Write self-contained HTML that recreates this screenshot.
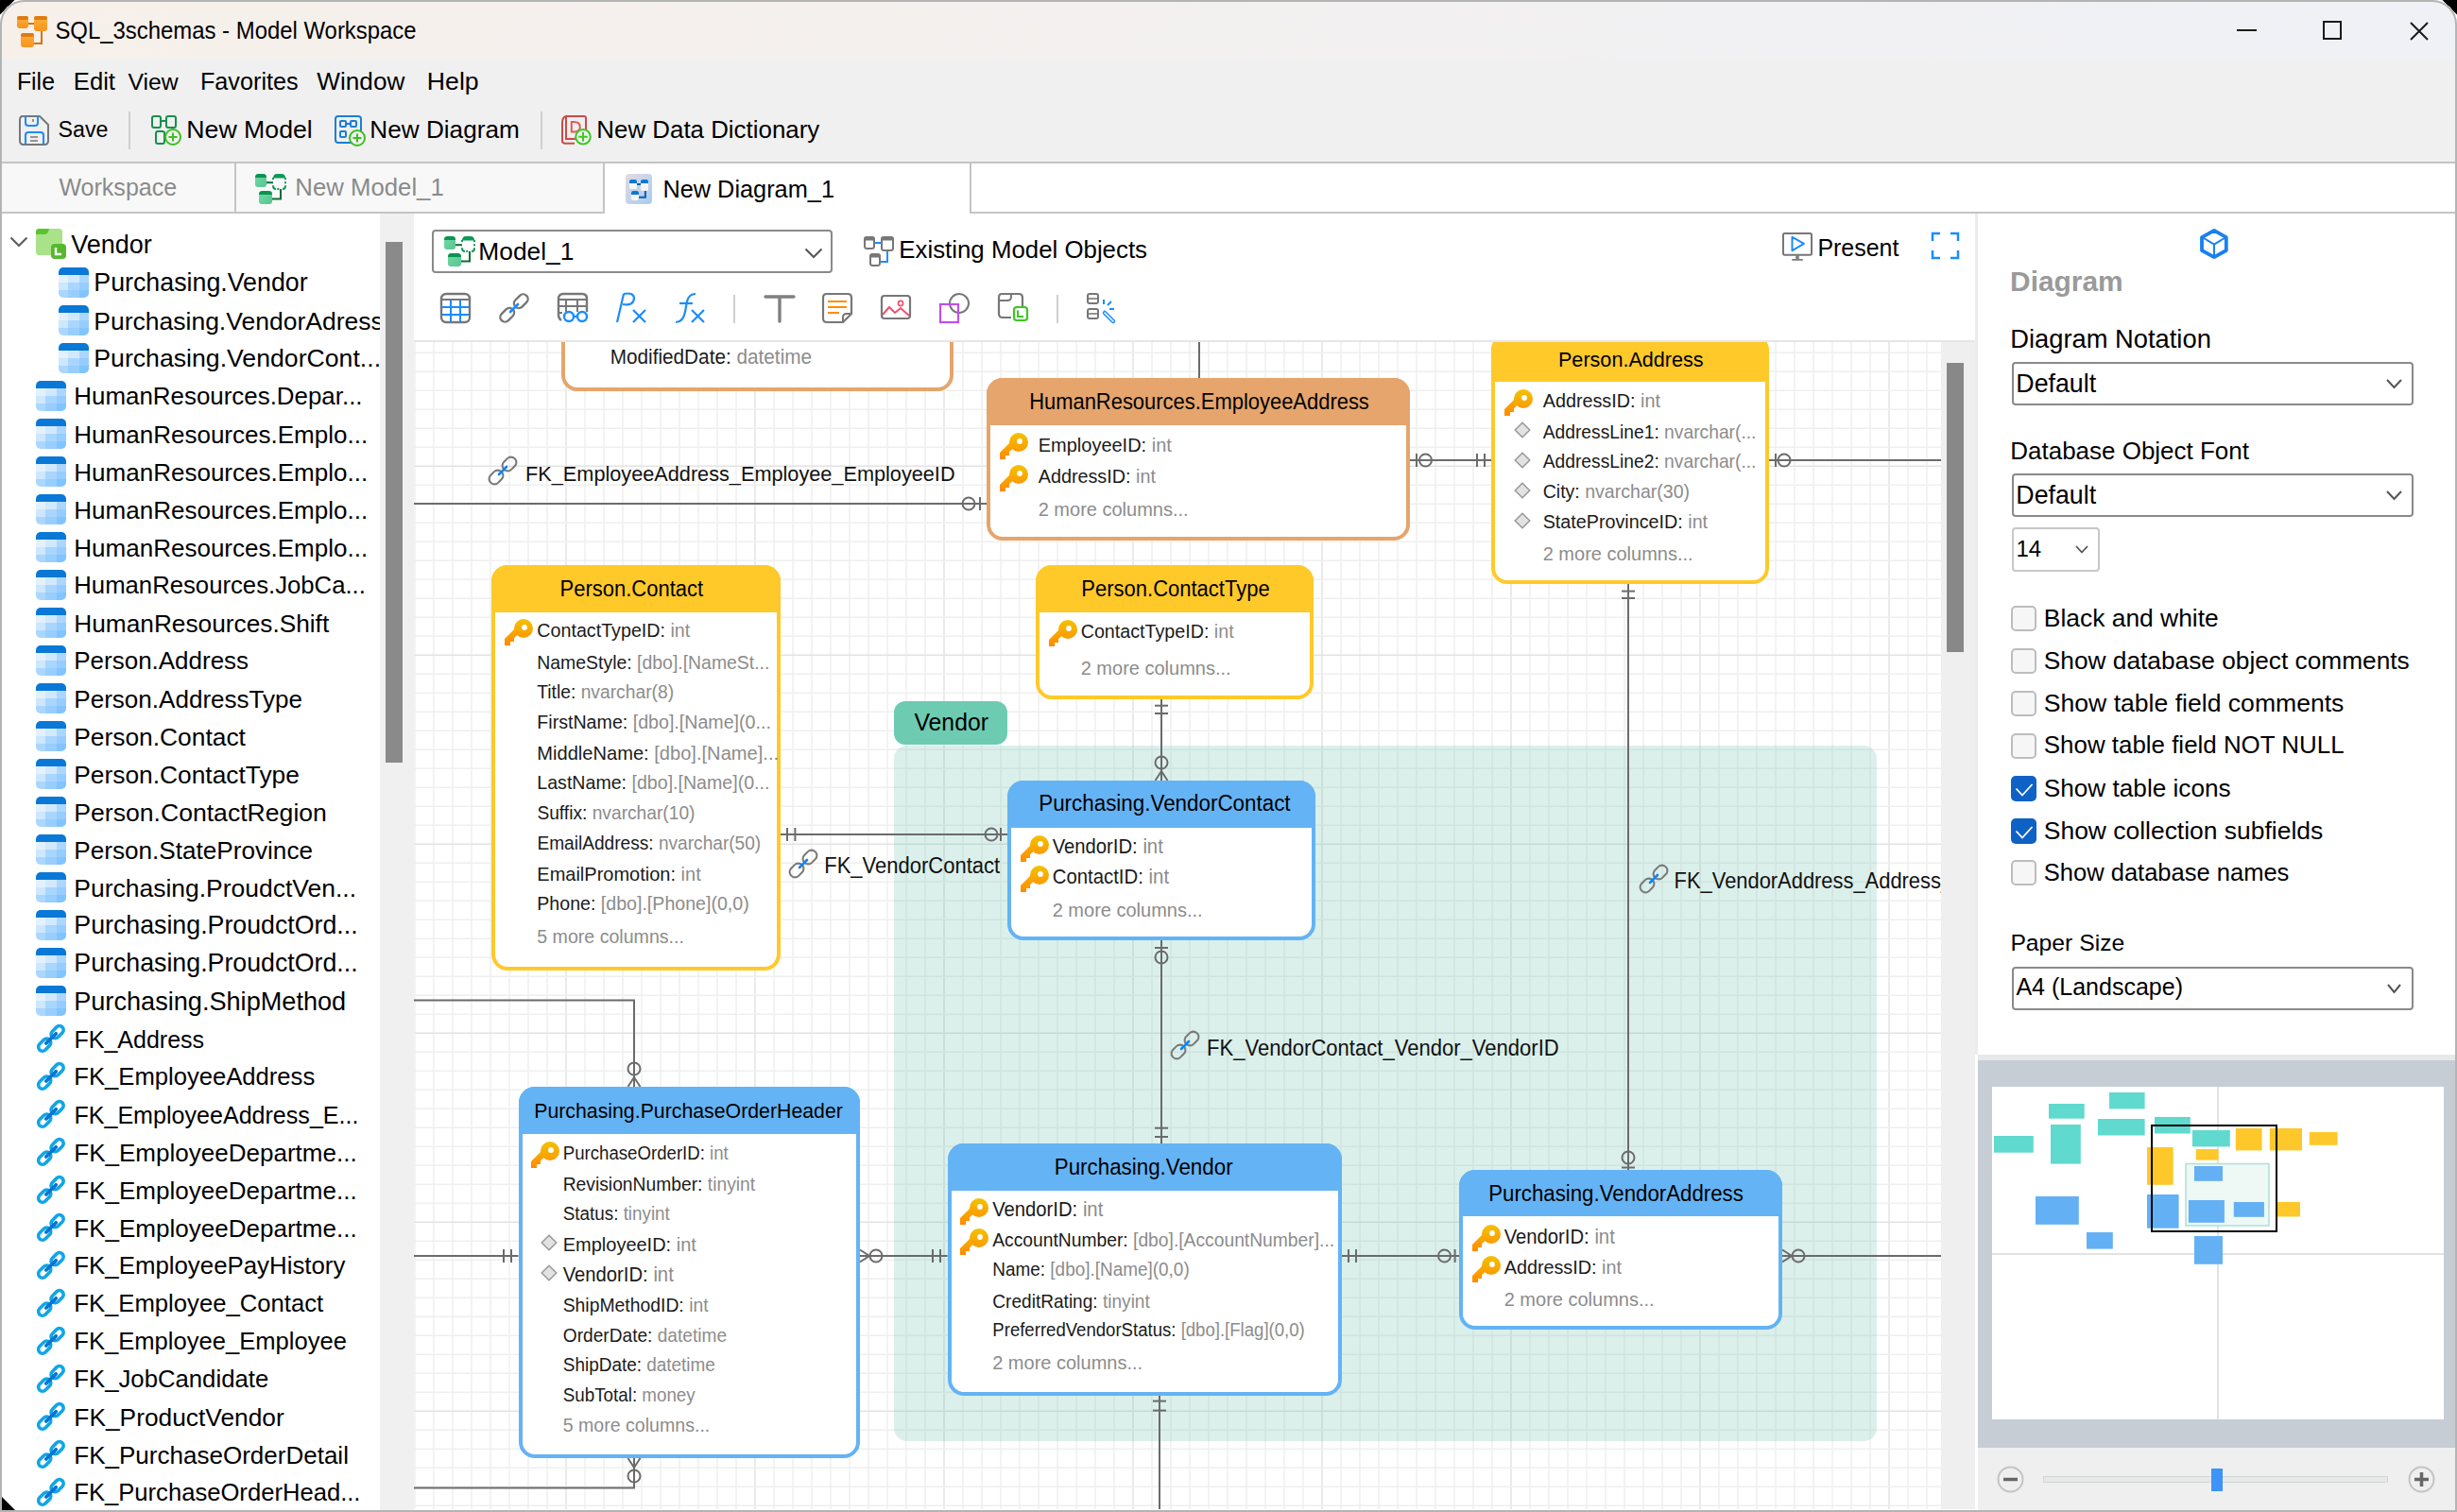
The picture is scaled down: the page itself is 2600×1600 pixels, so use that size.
<!DOCTYPE html>
<html><head><meta charset="utf-8"><title>Model Workspace</title>
<style>
html,body{margin:0;padding:0}
body{width:2600px;height:1600px;background:#fff;overflow:hidden;position:relative;font-family:"Liberation Sans",sans-serif}
.a{position:absolute}
.t{position:absolute;white-space:nowrap;line-height:1}
svg{overflow:visible}
</style></head><body>
<svg class="a" style="left:0;top:0" width="2600" height="40"><path d="M0 0 H15.5 L0 15.5Z M2600 0 H2584.5 L2600 15.5Z" fill="#000"/></svg>
<div class="a" style="left:0;top:0;width:2600px;height:1600px;border-radius:26px 26px 0 0;overflow:hidden;background:#fff">

<div class="a" style="left:0px;top:0px;width:2600px;height:62px;background:linear-gradient(90deg,#f7f0ea 0%,#f3f0ef 45%,#eff1f6 100%);"></div>
<svg class="a" style="left:18px;top:17px;" width="32" height="33" viewBox="0 0 32 33">
<defs><linearGradient id="go" x1="0" y1="0" x2="0" y2="1"><stop offset="0" stop-color="#fbb03b"/><stop offset="1" stop-color="#f7941d"/></linearGradient></defs>
<path d="M8 8 H20 M26 14 V29 H14" stroke="#d9720f" stroke-width="2" fill="none"/>
<rect x="0" y="0" width="12" height="13" rx="3" fill="url(#go)"/><rect x="0" y="0" width="12" height="4" rx="2" fill="#e07b10"/>
<rect x="18" y="0" width="14" height="16" rx="3" fill="url(#go)"/><rect x="18" y="0" width="14" height="4" rx="2" fill="#e07b10"/>
<rect x="4" y="18" width="14" height="15" rx="3" fill="url(#go)"/><rect x="4" y="18" width="14" height="4" rx="2" fill="#e07b10"/>
</svg>
<div class="t" style="left:58.4px;top:21.4px;font-size:23.92px;transform:scaleY(1.07);transform-origin:0 20.3px;">SQL_3schemas - Model Workspace</div>
<div class="a" style="left:2367px;top:31px;width:21px;height:2px;background:#1a1a1a;"></div>
<div class="a" style="left:2458px;top:22px;width:16px;height:16px;border:2px solid #1a1a1a"></div>
<svg class="a" style="left:2550px;top:23px;" width="20" height="20" viewBox="0 0 20 20"><path d="M1 1 L19 19 M19 1 L1 19" stroke="#1a1a1a" stroke-width="2"/></svg>
<div class="a" style="left:0px;top:62px;width:2600px;height:110px;background:#f0f0f0;"></div>
<div class="t" style="left:17.9px;top:74.4px;font-size:24.88px;">File</div>
<div class="t" style="left:77.8px;top:73.8px;font-size:25.65px;">Edit</div>
<div class="t" style="left:135.4px;top:74.5px;font-size:24.75px;">View</div>
<div class="t" style="left:211.9px;top:74.1px;font-size:25.24px;">Favorites</div>
<div class="t" style="left:335.3px;top:73.3px;font-size:26.17px;">Window</div>
<div class="t" style="left:451.8px;top:72.9px;font-size:26.69px;">Help</div>
<svg class="a" style="left:20px;top:122px;" width="32" height="32" viewBox="0 0 32 32">
<path d="M4 1 H22 L31 10 V27 Q31 31 27 31 H5 Q1 31 1 27 V5 Q1 1 4 1Z" fill="none" stroke="#777" stroke-width="2"/>
<path d="M7 1 V8 Q7 11 10 11 H17 Q20 11 20 8 V1" fill="none" stroke="#1a8cff" stroke-width="2"/>
<path d="M7 31 V21 Q7 18 10 18 H23 Q26 18 26 21 V31" fill="none" stroke="#1a8cff" stroke-width="2"/>
<path d="M15 4 V7" stroke="#777" stroke-width="1.5"/><path d="M12 23 H20 M12 27 H20" stroke="#777" stroke-width="1.5"/>
</svg>
<div class="t" style="left:61.5px;top:126.3px;font-size:23.24px;">Save</div>
<div class="a" style="left:136px;top:118px;width:2px;height:40px;background:#cfcfcf;"></div>
<svg class="a" style="left:160px;top:122px;" width="33" height="33" viewBox="0 0 33 33">
<rect x="1" y="1" width="9" height="12" rx="2" fill="none" stroke="#168f4f" stroke-width="2"/>
<rect x="16" y="1" width="10" height="12" rx="2" fill="none" stroke="#168f4f" stroke-width="2"/>
<path d="M10 6 H16" stroke="#168f4f" stroke-width="2"/>
<rect x="5" y="17" width="9" height="13" rx="2" fill="none" stroke="#168f4f" stroke-width="2"/>
<circle cx="23" cy="23" r="8" fill="#f0f0f0" stroke="#3cbf1e" stroke-width="2"/>
<path d="M23 18.5 V27.5 M18.5 23 H27.5" stroke="#3cbf1e" stroke-width="2"/>
</svg>
<div class="t" style="left:197.3px;top:123.9px;font-size:26.69px;">New Model</div>
<svg class="a" style="left:354px;top:122px;" width="33" height="33" viewBox="0 0 33 33">
<rect x="1" y="1" width="27" height="28" rx="3" fill="none" stroke="#1a7fd8" stroke-width="2"/>
<rect x="6" y="6" width="6" height="6" rx="1" fill="none" stroke="#1a7fd8" stroke-width="2"/>
<rect x="17" y="6" width="6" height="6" rx="1" fill="none" stroke="#1a7fd8" stroke-width="2"/>
<path d="M12 9 H17" stroke="#1a7fd8" stroke-width="2"/>
<rect x="6" y="17" width="6" height="6" rx="1" fill="none" stroke="#1a7fd8" stroke-width="2"/>
<circle cx="24" cy="24" r="8" fill="#f0f0f0" stroke="#3cbf1e" stroke-width="2"/>
<path d="M24 19.5 V28.5 M19.5 24 H28.5" stroke="#3cbf1e" stroke-width="2"/>
</svg>
<div class="t" style="left:391.3px;top:124.3px;font-size:26.17px;">New Diagram</div>
<div class="a" style="left:572px;top:118px;width:2px;height:40px;background:#cfcfcf;"></div>
<svg class="a" style="left:594px;top:122px;" width="33" height="33" viewBox="0 0 33 33">
<path d="M5 1 H24 Q26 1 26 3 V24 M14 29.8 H4 Q1 29.8 1 27 V8 Q1 2 5 1 V25 H15" fill="none" stroke="#cc4a48" stroke-width="2"/>
<path d="M10.8 7 H13 Q19.8 7 19.8 12.3 Q19.8 17.6 13 17.6 H10.8Z" fill="none" stroke="#e25a58" stroke-width="2"/>
<circle cx="23" cy="22.8" r="7.8" fill="#f0f0f0" stroke="#3cc81e" stroke-width="2"/>
<path d="M23 18 V27.6 M18.2 22.8 H27.8" stroke="#3cc81e" stroke-width="2"/>
</svg>
<div class="t" style="left:631.3px;top:124.6px;font-size:25.9px;">New Data Dictionary</div>
<div class="a" style="left:0px;top:172px;width:2600px;height:53px;background:#f8f8f8;"></div>
<div class="a" style="left:0px;top:171px;width:2600px;height:2px;background:#c4c4c4;"></div>
<div class="a" style="left:639px;top:173px;width:388px;height:54px;background:#fff;"></div>
<div class="a" style="left:1027px;top:173px;width:1573px;height:51px;background:#fff;"></div>
<div class="a" style="left:0px;top:224px;width:639px;height:2px;background:#c4c4c4;"></div>
<div class="a" style="left:1027px;top:224px;width:1573px;height:2px;background:#c4c4c4;"></div>
<div class="a" style="left:248px;top:173px;width:2px;height:52px;background:#c4c4c4;"></div>
<div class="a" style="left:638px;top:173px;width:2px;height:53px;background:#c4c4c4;"></div>
<div class="a" style="left:1026px;top:173px;width:2px;height:53px;background:#c4c4c4;"></div>
<div class="t" style="left:62.4px;top:186.3px;font-size:25.06px;color:#8a8a8a;">Workspace</div>
<svg class="a" style="left:270px;top:184px;" width="32" height="32" viewBox="0 0 32 32">
<defs><linearGradient id="gm" gradientUnits="objectBoundingBox" x1="0" y1="0" x2="1" y2="1"><stop offset="0" stop-color="#74dba6"/><stop offset="1" stop-color="#58c490"/></linearGradient></defs>
<path d="M12 9.2 H19" stroke="#0b6e35" stroke-width="2"/>
<path d="M18 26.5 H27 V16" fill="none" stroke="#0b6e35" stroke-width="2"/>
<rect x="0" y="0" width="12" height="14" rx="3" fill="url(#gm)"/><path d="M0 4 Q0 0 4 0 H8 Q12 0 12 4Z" fill="#0a9450"/>
<rect x="4" y="18" width="14" height="14" rx="3" fill="url(#gm)"/><path d="M4 22 Q4 18 8 18 H14 Q18 18 18 22Z" fill="#0a9450"/>
<path d="M19 4.5 Q19 0 23 0 H28 Q32 0 32 4.5Z" fill="#0a9a55"/>
<path d="M19 4 V6 M32 4 V6 M19 12.2 V12.5 Q19 16 22 16 M29 16 Q32 16 32 12.5 V12.2 M24.5 16 V16 M32 8.2 V10.2" fill="none" stroke="#0a9a55" stroke-width="2"/>
<rect x="23.3" y="15" width="2" height="2" fill="#0a9a55"/>
</svg>
<div class="t" style="left:312.3px;top:185.7px;font-size:25.75px;color:#8a8a8a;">New Model_1</div>
<svg class="a" style="left:662px;top:184px;" width="28" height="32" viewBox="0 0 28 32">
<defs><linearGradient id="gd" x1="0" y1="0" x2="1" y2="1"><stop offset="0" stop-color="#e2dbe3"/><stop offset="1" stop-color="#a8ccf0"/></linearGradient></defs>
<rect x="0" y="0" width="28" height="32" rx="4" fill="url(#gd)"/>
<path d="M12 11 H16 M14 24.8 H20.9 V17" fill="none" stroke="#0a5fb4" stroke-width="2"/>
<rect x="4" y="6" width="8" height="10" rx="2" fill="#f6f6f6"/><path d="M4 10 V8 Q4 6 6 6 H10 Q12 6 12 8 V10Z" fill="#0a78d6"/>
<rect x="16" y="6" width="8" height="12" rx="2" fill="#f6f6f6"/><path d="M16 10 V8 Q16 6 18 6 H22 Q24 6 24 8 V10Z" fill="#0a78d6"/>
<rect x="6" y="18" width="8" height="10" rx="2" fill="#f6f6f6"/><path d="M6 22 V20 Q6 18 8 18 H12 Q14 18 14 20 V22Z" fill="#0a78d6"/>
</svg>
<div class="t" style="left:701.4px;top:187.9px;font-size:25.34px;">New Diagram_1</div>
<div class="a" style="left:2px;top:226px;width:400px;height:1374px;background:#fff;"></div>
<div class="a" style="left:402px;top:226px;width:36px;height:1374px;background:#f0f0f0;"></div>
<div class="a" style="left:408px;top:256px;width:18px;height:551px;background:#8a8a8a;"></div>
<svg class="a" style="left:10px;top:250px;" width="20" height="12" viewBox="0 0 20 12"><path d="M1.5 1.5 L10 10 L18.5 1.5" fill="none" stroke="#606060" stroke-width="2.2"/></svg>
<svg class="a" style="left:38px;top:242px;" width="32" height="32" viewBox="0 0 32 32">
<rect x="0" y="0" width="28" height="28" rx="3.5" fill="#aae28a"/>
<path d="M0 3.5 Q0 0 3.5 0 H14 Q13 6 9 6 H0Z" fill="#5bc42c"/>
<rect x="16" y="16" width="16" height="16" rx="4" fill="#56b82c"/>
<path d="M21 20 V27 H27" fill="none" stroke="#fff" stroke-width="2.4"/></svg>
<div class="a" style="left:2px;top:226px;width:400px;height:1372px;overflow:hidden">
<div class="t" style="left:73.2px;top:20.1px;font-size:27.02px;">Vendor</div>
<svg class="a" style="left:60px;top:57px;" width="32" height="32" viewBox="0 0 32 32">
<defs><clipPath id="tc"><rect x="0" y="0" width="32" height="32" rx="5"/></clipPath></defs>
<g clip-path="url(#tc)">
<rect x="0" y="0" width="32" height="8" fill="#0a78d6"/>
<rect x="0" y="8" width="10" height="8" fill="#e3f1fd"/><rect x="10" y="8" width="12" height="8" fill="#d2e9fd"/><rect x="22" y="8" width="10" height="8" fill="#abd7fe"/>
<rect x="0" y="16" width="10" height="8" fill="#cde7fd"/><rect x="10" y="16" width="12" height="8" fill="#a9d6fe"/><rect x="22" y="16" width="10" height="8" fill="#96cdfe"/>
<rect x="0" y="24" width="10" height="8" fill="#abd7fe"/><rect x="10" y="24" width="12" height="8" fill="#98cefe"/><rect x="22" y="24" width="10" height="8" fill="#82c4fe"/>
</g></svg>
<div class="t" style="left:97.3px;top:60.3px;font-size:26.79px;">Purchasing.Vendor</div>
<svg class="a" style="left:60px;top:97px;" width="32" height="32" viewBox="0 0 32 32">
<defs><clipPath id="tc"><rect x="0" y="0" width="32" height="32" rx="5"/></clipPath></defs>
<g clip-path="url(#tc)">
<rect x="0" y="0" width="32" height="8" fill="#0a78d6"/>
<rect x="0" y="8" width="10" height="8" fill="#e3f1fd"/><rect x="10" y="8" width="12" height="8" fill="#d2e9fd"/><rect x="22" y="8" width="10" height="8" fill="#abd7fe"/>
<rect x="0" y="16" width="10" height="8" fill="#cde7fd"/><rect x="10" y="16" width="12" height="8" fill="#a9d6fe"/><rect x="22" y="16" width="10" height="8" fill="#96cdfe"/>
<rect x="0" y="24" width="10" height="8" fill="#abd7fe"/><rect x="10" y="24" width="12" height="8" fill="#98cefe"/><rect x="22" y="24" width="10" height="8" fill="#82c4fe"/>
</g></svg>
<div class="t" style="left:97.3px;top:100.6px;font-size:26.5px;">Purchasing.VendorAdress</div>
<svg class="a" style="left:60px;top:137px;" width="32" height="32" viewBox="0 0 32 32">
<defs><clipPath id="tc"><rect x="0" y="0" width="32" height="32" rx="5"/></clipPath></defs>
<g clip-path="url(#tc)">
<rect x="0" y="0" width="32" height="8" fill="#0a78d6"/>
<rect x="0" y="8" width="10" height="8" fill="#e3f1fd"/><rect x="10" y="8" width="12" height="8" fill="#d2e9fd"/><rect x="22" y="8" width="10" height="8" fill="#abd7fe"/>
<rect x="0" y="16" width="10" height="8" fill="#cde7fd"/><rect x="10" y="16" width="12" height="8" fill="#a9d6fe"/><rect x="22" y="16" width="10" height="8" fill="#96cdfe"/>
<rect x="0" y="24" width="10" height="8" fill="#abd7fe"/><rect x="10" y="24" width="12" height="8" fill="#98cefe"/><rect x="22" y="24" width="10" height="8" fill="#82c4fe"/>
</g></svg>
<div class="t" style="left:97.3px;top:140.4px;font-size:26.66px;">Purchasing.VendorCont...</div>
<svg class="a" style="left:36px;top:177px;" width="32" height="32" viewBox="0 0 32 32">
<defs><clipPath id="tc"><rect x="0" y="0" width="32" height="32" rx="5"/></clipPath></defs>
<g clip-path="url(#tc)">
<rect x="0" y="0" width="32" height="8" fill="#0a78d6"/>
<rect x="0" y="8" width="10" height="8" fill="#e3f1fd"/><rect x="10" y="8" width="12" height="8" fill="#d2e9fd"/><rect x="22" y="8" width="10" height="8" fill="#abd7fe"/>
<rect x="0" y="16" width="10" height="8" fill="#cde7fd"/><rect x="10" y="16" width="12" height="8" fill="#a9d6fe"/><rect x="22" y="16" width="10" height="8" fill="#96cdfe"/>
<rect x="0" y="24" width="10" height="8" fill="#abd7fe"/><rect x="10" y="24" width="12" height="8" fill="#98cefe"/><rect x="22" y="24" width="10" height="8" fill="#82c4fe"/>
</g></svg>
<div class="t" style="left:76.3px;top:181.1px;font-size:25.91px;">HumanResources.Depar...</div>
<svg class="a" style="left:36px;top:217px;" width="32" height="32" viewBox="0 0 32 32">
<defs><clipPath id="tc"><rect x="0" y="0" width="32" height="32" rx="5"/></clipPath></defs>
<g clip-path="url(#tc)">
<rect x="0" y="0" width="32" height="8" fill="#0a78d6"/>
<rect x="0" y="8" width="10" height="8" fill="#e3f1fd"/><rect x="10" y="8" width="12" height="8" fill="#d2e9fd"/><rect x="22" y="8" width="10" height="8" fill="#abd7fe"/>
<rect x="0" y="16" width="10" height="8" fill="#cde7fd"/><rect x="10" y="16" width="12" height="8" fill="#a9d6fe"/><rect x="22" y="16" width="10" height="8" fill="#96cdfe"/>
<rect x="0" y="24" width="10" height="8" fill="#abd7fe"/><rect x="10" y="24" width="12" height="8" fill="#98cefe"/><rect x="22" y="24" width="10" height="8" fill="#82c4fe"/>
</g></svg>
<div class="t" style="left:76.3px;top:221.0px;font-size:26.02px;">HumanResources.Emplo...</div>
<svg class="a" style="left:36px;top:257px;" width="32" height="32" viewBox="0 0 32 32">
<defs><clipPath id="tc"><rect x="0" y="0" width="32" height="32" rx="5"/></clipPath></defs>
<g clip-path="url(#tc)">
<rect x="0" y="0" width="32" height="8" fill="#0a78d6"/>
<rect x="0" y="8" width="10" height="8" fill="#e3f1fd"/><rect x="10" y="8" width="12" height="8" fill="#d2e9fd"/><rect x="22" y="8" width="10" height="8" fill="#abd7fe"/>
<rect x="0" y="16" width="10" height="8" fill="#cde7fd"/><rect x="10" y="16" width="12" height="8" fill="#a9d6fe"/><rect x="22" y="16" width="10" height="8" fill="#96cdfe"/>
<rect x="0" y="24" width="10" height="8" fill="#abd7fe"/><rect x="10" y="24" width="12" height="8" fill="#98cefe"/><rect x="22" y="24" width="10" height="8" fill="#82c4fe"/>
</g></svg>
<div class="t" style="left:76.3px;top:261.0px;font-size:26.02px;">HumanResources.Emplo...</div>
<svg class="a" style="left:36px;top:297px;" width="32" height="32" viewBox="0 0 32 32">
<defs><clipPath id="tc"><rect x="0" y="0" width="32" height="32" rx="5"/></clipPath></defs>
<g clip-path="url(#tc)">
<rect x="0" y="0" width="32" height="8" fill="#0a78d6"/>
<rect x="0" y="8" width="10" height="8" fill="#e3f1fd"/><rect x="10" y="8" width="12" height="8" fill="#d2e9fd"/><rect x="22" y="8" width="10" height="8" fill="#abd7fe"/>
<rect x="0" y="16" width="10" height="8" fill="#cde7fd"/><rect x="10" y="16" width="12" height="8" fill="#a9d6fe"/><rect x="22" y="16" width="10" height="8" fill="#96cdfe"/>
<rect x="0" y="24" width="10" height="8" fill="#abd7fe"/><rect x="10" y="24" width="12" height="8" fill="#98cefe"/><rect x="22" y="24" width="10" height="8" fill="#82c4fe"/>
</g></svg>
<div class="t" style="left:76.3px;top:301.0px;font-size:26.02px;">HumanResources.Emplo...</div>
<svg class="a" style="left:36px;top:337px;" width="32" height="32" viewBox="0 0 32 32">
<defs><clipPath id="tc"><rect x="0" y="0" width="32" height="32" rx="5"/></clipPath></defs>
<g clip-path="url(#tc)">
<rect x="0" y="0" width="32" height="8" fill="#0a78d6"/>
<rect x="0" y="8" width="10" height="8" fill="#e3f1fd"/><rect x="10" y="8" width="12" height="8" fill="#d2e9fd"/><rect x="22" y="8" width="10" height="8" fill="#abd7fe"/>
<rect x="0" y="16" width="10" height="8" fill="#cde7fd"/><rect x="10" y="16" width="12" height="8" fill="#a9d6fe"/><rect x="22" y="16" width="10" height="8" fill="#96cdfe"/>
<rect x="0" y="24" width="10" height="8" fill="#abd7fe"/><rect x="10" y="24" width="12" height="8" fill="#98cefe"/><rect x="22" y="24" width="10" height="8" fill="#82c4fe"/>
</g></svg>
<div class="t" style="left:76.3px;top:341.0px;font-size:26.02px;">HumanResources.Emplo...</div>
<svg class="a" style="left:36px;top:377px;" width="32" height="32" viewBox="0 0 32 32">
<defs><clipPath id="tc"><rect x="0" y="0" width="32" height="32" rx="5"/></clipPath></defs>
<g clip-path="url(#tc)">
<rect x="0" y="0" width="32" height="8" fill="#0a78d6"/>
<rect x="0" y="8" width="10" height="8" fill="#e3f1fd"/><rect x="10" y="8" width="12" height="8" fill="#d2e9fd"/><rect x="22" y="8" width="10" height="8" fill="#abd7fe"/>
<rect x="0" y="16" width="10" height="8" fill="#cde7fd"/><rect x="10" y="16" width="12" height="8" fill="#a9d6fe"/><rect x="22" y="16" width="10" height="8" fill="#96cdfe"/>
<rect x="0" y="24" width="10" height="8" fill="#abd7fe"/><rect x="10" y="24" width="12" height="8" fill="#98cefe"/><rect x="22" y="24" width="10" height="8" fill="#82c4fe"/>
</g></svg>
<div class="t" style="left:76.3px;top:381.2px;font-size:25.71px;">HumanResources.JobCa...</div>
<svg class="a" style="left:36px;top:417px;" width="32" height="32" viewBox="0 0 32 32">
<defs><clipPath id="tc"><rect x="0" y="0" width="32" height="32" rx="5"/></clipPath></defs>
<g clip-path="url(#tc)">
<rect x="0" y="0" width="32" height="8" fill="#0a78d6"/>
<rect x="0" y="8" width="10" height="8" fill="#e3f1fd"/><rect x="10" y="8" width="12" height="8" fill="#d2e9fd"/><rect x="22" y="8" width="10" height="8" fill="#abd7fe"/>
<rect x="0" y="16" width="10" height="8" fill="#cde7fd"/><rect x="10" y="16" width="12" height="8" fill="#a9d6fe"/><rect x="22" y="16" width="10" height="8" fill="#96cdfe"/>
<rect x="0" y="24" width="10" height="8" fill="#abd7fe"/><rect x="10" y="24" width="12" height="8" fill="#98cefe"/><rect x="22" y="24" width="10" height="8" fill="#82c4fe"/>
</g></svg>
<div class="t" style="left:76.3px;top:420.8px;font-size:26.25px;">HumanResources.Shift</div>
<svg class="a" style="left:36px;top:457px;" width="32" height="32" viewBox="0 0 32 32">
<defs><clipPath id="tc"><rect x="0" y="0" width="32" height="32" rx="5"/></clipPath></defs>
<g clip-path="url(#tc)">
<rect x="0" y="0" width="32" height="8" fill="#0a78d6"/>
<rect x="0" y="8" width="10" height="8" fill="#e3f1fd"/><rect x="10" y="8" width="12" height="8" fill="#d2e9fd"/><rect x="22" y="8" width="10" height="8" fill="#abd7fe"/>
<rect x="0" y="16" width="10" height="8" fill="#cde7fd"/><rect x="10" y="16" width="12" height="8" fill="#a9d6fe"/><rect x="22" y="16" width="10" height="8" fill="#96cdfe"/>
<rect x="0" y="24" width="10" height="8" fill="#abd7fe"/><rect x="10" y="24" width="12" height="8" fill="#98cefe"/><rect x="22" y="24" width="10" height="8" fill="#82c4fe"/>
</g></svg>
<div class="t" style="left:76.3px;top:461.0px;font-size:25.97px;">Person.Address</div>
<svg class="a" style="left:36px;top:497px;" width="32" height="32" viewBox="0 0 32 32">
<defs><clipPath id="tc"><rect x="0" y="0" width="32" height="32" rx="5"/></clipPath></defs>
<g clip-path="url(#tc)">
<rect x="0" y="0" width="32" height="8" fill="#0a78d6"/>
<rect x="0" y="8" width="10" height="8" fill="#e3f1fd"/><rect x="10" y="8" width="12" height="8" fill="#d2e9fd"/><rect x="22" y="8" width="10" height="8" fill="#abd7fe"/>
<rect x="0" y="16" width="10" height="8" fill="#cde7fd"/><rect x="10" y="16" width="12" height="8" fill="#a9d6fe"/><rect x="22" y="16" width="10" height="8" fill="#96cdfe"/>
<rect x="0" y="24" width="10" height="8" fill="#abd7fe"/><rect x="10" y="24" width="12" height="8" fill="#98cefe"/><rect x="22" y="24" width="10" height="8" fill="#82c4fe"/>
</g></svg>
<div class="t" style="left:76.3px;top:500.9px;font-size:26.05px;">Person.AddressType</div>
<svg class="a" style="left:36px;top:537px;" width="32" height="32" viewBox="0 0 32 32">
<defs><clipPath id="tc"><rect x="0" y="0" width="32" height="32" rx="5"/></clipPath></defs>
<g clip-path="url(#tc)">
<rect x="0" y="0" width="32" height="8" fill="#0a78d6"/>
<rect x="0" y="8" width="10" height="8" fill="#e3f1fd"/><rect x="10" y="8" width="12" height="8" fill="#d2e9fd"/><rect x="22" y="8" width="10" height="8" fill="#abd7fe"/>
<rect x="0" y="16" width="10" height="8" fill="#cde7fd"/><rect x="10" y="16" width="12" height="8" fill="#a9d6fe"/><rect x="22" y="16" width="10" height="8" fill="#96cdfe"/>
<rect x="0" y="24" width="10" height="8" fill="#abd7fe"/><rect x="10" y="24" width="12" height="8" fill="#98cefe"/><rect x="22" y="24" width="10" height="8" fill="#82c4fe"/>
</g></svg>
<div class="t" style="left:76.3px;top:540.7px;font-size:26.35px;">Person.Contact</div>
<svg class="a" style="left:36px;top:577px;" width="32" height="32" viewBox="0 0 32 32">
<defs><clipPath id="tc"><rect x="0" y="0" width="32" height="32" rx="5"/></clipPath></defs>
<g clip-path="url(#tc)">
<rect x="0" y="0" width="32" height="8" fill="#0a78d6"/>
<rect x="0" y="8" width="10" height="8" fill="#e3f1fd"/><rect x="10" y="8" width="12" height="8" fill="#d2e9fd"/><rect x="22" y="8" width="10" height="8" fill="#abd7fe"/>
<rect x="0" y="16" width="10" height="8" fill="#cde7fd"/><rect x="10" y="16" width="12" height="8" fill="#a9d6fe"/><rect x="22" y="16" width="10" height="8" fill="#96cdfe"/>
<rect x="0" y="24" width="10" height="8" fill="#abd7fe"/><rect x="10" y="24" width="12" height="8" fill="#98cefe"/><rect x="22" y="24" width="10" height="8" fill="#82c4fe"/>
</g></svg>
<div class="t" style="left:76.3px;top:580.7px;font-size:26.33px;">Person.ContactType</div>
<svg class="a" style="left:36px;top:617px;" width="32" height="32" viewBox="0 0 32 32">
<defs><clipPath id="tc"><rect x="0" y="0" width="32" height="32" rx="5"/></clipPath></defs>
<g clip-path="url(#tc)">
<rect x="0" y="0" width="32" height="8" fill="#0a78d6"/>
<rect x="0" y="8" width="10" height="8" fill="#e3f1fd"/><rect x="10" y="8" width="12" height="8" fill="#d2e9fd"/><rect x="22" y="8" width="10" height="8" fill="#abd7fe"/>
<rect x="0" y="16" width="10" height="8" fill="#cde7fd"/><rect x="10" y="16" width="12" height="8" fill="#a9d6fe"/><rect x="22" y="16" width="10" height="8" fill="#96cdfe"/>
<rect x="0" y="24" width="10" height="8" fill="#abd7fe"/><rect x="10" y="24" width="12" height="8" fill="#98cefe"/><rect x="22" y="24" width="10" height="8" fill="#82c4fe"/>
</g></svg>
<div class="t" style="left:76.3px;top:620.5px;font-size:26.6px;">Person.ContactRegion</div>
<svg class="a" style="left:36px;top:657px;" width="32" height="32" viewBox="0 0 32 32">
<defs><clipPath id="tc"><rect x="0" y="0" width="32" height="32" rx="5"/></clipPath></defs>
<g clip-path="url(#tc)">
<rect x="0" y="0" width="32" height="8" fill="#0a78d6"/>
<rect x="0" y="8" width="10" height="8" fill="#e3f1fd"/><rect x="10" y="8" width="12" height="8" fill="#d2e9fd"/><rect x="22" y="8" width="10" height="8" fill="#abd7fe"/>
<rect x="0" y="16" width="10" height="8" fill="#cde7fd"/><rect x="10" y="16" width="12" height="8" fill="#a9d6fe"/><rect x="22" y="16" width="10" height="8" fill="#96cdfe"/>
<rect x="0" y="24" width="10" height="8" fill="#abd7fe"/><rect x="10" y="24" width="12" height="8" fill="#98cefe"/><rect x="22" y="24" width="10" height="8" fill="#82c4fe"/>
</g></svg>
<div class="t" style="left:76.3px;top:660.9px;font-size:26.13px;">Person.StateProvince</div>
<svg class="a" style="left:36px;top:697px;" width="32" height="32" viewBox="0 0 32 32">
<defs><clipPath id="tc"><rect x="0" y="0" width="32" height="32" rx="5"/></clipPath></defs>
<g clip-path="url(#tc)">
<rect x="0" y="0" width="32" height="8" fill="#0a78d6"/>
<rect x="0" y="8" width="10" height="8" fill="#e3f1fd"/><rect x="10" y="8" width="12" height="8" fill="#d2e9fd"/><rect x="22" y="8" width="10" height="8" fill="#abd7fe"/>
<rect x="0" y="16" width="10" height="8" fill="#cde7fd"/><rect x="10" y="16" width="12" height="8" fill="#a9d6fe"/><rect x="22" y="16" width="10" height="8" fill="#96cdfe"/>
<rect x="0" y="24" width="10" height="8" fill="#abd7fe"/><rect x="10" y="24" width="12" height="8" fill="#98cefe"/><rect x="22" y="24" width="10" height="8" fill="#82c4fe"/>
</g></svg>
<div class="t" style="left:76.3px;top:700.6px;font-size:26.47px;">Purchasing.ProudctVen...</div>
<svg class="a" style="left:36px;top:737px;" width="32" height="32" viewBox="0 0 32 32">
<defs><clipPath id="tc"><rect x="0" y="0" width="32" height="32" rx="5"/></clipPath></defs>
<g clip-path="url(#tc)">
<rect x="0" y="0" width="32" height="8" fill="#0a78d6"/>
<rect x="0" y="8" width="10" height="8" fill="#e3f1fd"/><rect x="10" y="8" width="12" height="8" fill="#d2e9fd"/><rect x="22" y="8" width="10" height="8" fill="#abd7fe"/>
<rect x="0" y="16" width="10" height="8" fill="#cde7fd"/><rect x="10" y="16" width="12" height="8" fill="#a9d6fe"/><rect x="22" y="16" width="10" height="8" fill="#96cdfe"/>
<rect x="0" y="24" width="10" height="8" fill="#abd7fe"/><rect x="10" y="24" width="12" height="8" fill="#98cefe"/><rect x="22" y="24" width="10" height="8" fill="#82c4fe"/>
</g></svg>
<div class="t" style="left:76.3px;top:740.3px;font-size:26.76px;">Purchasing.ProudctOrd...</div>
<svg class="a" style="left:36px;top:777px;" width="32" height="32" viewBox="0 0 32 32">
<defs><clipPath id="tc"><rect x="0" y="0" width="32" height="32" rx="5"/></clipPath></defs>
<g clip-path="url(#tc)">
<rect x="0" y="0" width="32" height="8" fill="#0a78d6"/>
<rect x="0" y="8" width="10" height="8" fill="#e3f1fd"/><rect x="10" y="8" width="12" height="8" fill="#d2e9fd"/><rect x="22" y="8" width="10" height="8" fill="#abd7fe"/>
<rect x="0" y="16" width="10" height="8" fill="#cde7fd"/><rect x="10" y="16" width="12" height="8" fill="#a9d6fe"/><rect x="22" y="16" width="10" height="8" fill="#96cdfe"/>
<rect x="0" y="24" width="10" height="8" fill="#abd7fe"/><rect x="10" y="24" width="12" height="8" fill="#98cefe"/><rect x="22" y="24" width="10" height="8" fill="#82c4fe"/>
</g></svg>
<div class="t" style="left:76.3px;top:780.3px;font-size:26.76px;">Purchasing.ProudctOrd...</div>
<svg class="a" style="left:36px;top:817px;" width="32" height="32" viewBox="0 0 32 32">
<defs><clipPath id="tc"><rect x="0" y="0" width="32" height="32" rx="5"/></clipPath></defs>
<g clip-path="url(#tc)">
<rect x="0" y="0" width="32" height="8" fill="#0a78d6"/>
<rect x="0" y="8" width="10" height="8" fill="#e3f1fd"/><rect x="10" y="8" width="12" height="8" fill="#d2e9fd"/><rect x="22" y="8" width="10" height="8" fill="#abd7fe"/>
<rect x="0" y="16" width="10" height="8" fill="#cde7fd"/><rect x="10" y="16" width="12" height="8" fill="#a9d6fe"/><rect x="22" y="16" width="10" height="8" fill="#96cdfe"/>
<rect x="0" y="24" width="10" height="8" fill="#abd7fe"/><rect x="10" y="24" width="12" height="8" fill="#98cefe"/><rect x="22" y="24" width="10" height="8" fill="#82c4fe"/>
</g></svg>
<div class="t" style="left:76.2px;top:820.0px;font-size:27.13px;">Purchasing.ShipMethod</div>
<svg class="a" style="left:36px;top:857px;" width="32" height="32" viewBox="0 0 32 32">
<g transform="translate(22.6,9.2) rotate(-45)"><rect x="-7.5" y="-4.3" width="15" height="8.6" rx="4.3" fill="none" stroke="#10a6e6" stroke-width="3.6"/></g>
<g transform="translate(9.2,22.6) rotate(-45)"><rect x="-7.5" y="-4.3" width="15" height="8.6" rx="4.3" fill="none" stroke="#10a6e6" stroke-width="3.6"/></g>
<path d="M10.8 21 L21.2 10.8" stroke="#0a74d2" stroke-width="3.8" stroke-linecap="round"/></svg>
<div class="t" style="left:76.4px;top:861.8px;font-size:25.04px;">FK_Address</div>
<svg class="a" style="left:36px;top:897px;" width="32" height="32" viewBox="0 0 32 32">
<g transform="translate(22.6,9.2) rotate(-45)"><rect x="-7.5" y="-4.3" width="15" height="8.6" rx="4.3" fill="none" stroke="#10a6e6" stroke-width="3.6"/></g>
<g transform="translate(9.2,22.6) rotate(-45)"><rect x="-7.5" y="-4.3" width="15" height="8.6" rx="4.3" fill="none" stroke="#10a6e6" stroke-width="3.6"/></g>
<path d="M10.8 21 L21.2 10.8" stroke="#0a74d2" stroke-width="3.8" stroke-linecap="round"/></svg>
<div class="t" style="left:76.3px;top:901.3px;font-size:25.64px;">FK_EmployeeAddress</div>
<svg class="a" style="left:36px;top:937px;" width="32" height="32" viewBox="0 0 32 32">
<g transform="translate(22.6,9.2) rotate(-45)"><rect x="-7.5" y="-4.3" width="15" height="8.6" rx="4.3" fill="none" stroke="#10a6e6" stroke-width="3.6"/></g>
<g transform="translate(9.2,22.6) rotate(-45)"><rect x="-7.5" y="-4.3" width="15" height="8.6" rx="4.3" fill="none" stroke="#10a6e6" stroke-width="3.6"/></g>
<path d="M10.8 21 L21.2 10.8" stroke="#0a74d2" stroke-width="3.8" stroke-linecap="round"/></svg>
<div class="t" style="left:76.4px;top:941.8px;font-size:25.09px;">FK_EmployeeAddress_E...</div>
<svg class="a" style="left:36px;top:977px;" width="32" height="32" viewBox="0 0 32 32">
<g transform="translate(22.6,9.2) rotate(-45)"><rect x="-7.5" y="-4.3" width="15" height="8.6" rx="4.3" fill="none" stroke="#10a6e6" stroke-width="3.6"/></g>
<g transform="translate(9.2,22.6) rotate(-45)"><rect x="-7.5" y="-4.3" width="15" height="8.6" rx="4.3" fill="none" stroke="#10a6e6" stroke-width="3.6"/></g>
<path d="M10.8 21 L21.2 10.8" stroke="#0a74d2" stroke-width="3.8" stroke-linecap="round"/></svg>
<div class="t" style="left:76.3px;top:981.0px;font-size:26.02px;">FK_EmployeeDepartme...</div>
<svg class="a" style="left:36px;top:1017px;" width="32" height="32" viewBox="0 0 32 32">
<g transform="translate(22.6,9.2) rotate(-45)"><rect x="-7.5" y="-4.3" width="15" height="8.6" rx="4.3" fill="none" stroke="#10a6e6" stroke-width="3.6"/></g>
<g transform="translate(9.2,22.6) rotate(-45)"><rect x="-7.5" y="-4.3" width="15" height="8.6" rx="4.3" fill="none" stroke="#10a6e6" stroke-width="3.6"/></g>
<path d="M10.8 21 L21.2 10.8" stroke="#0a74d2" stroke-width="3.8" stroke-linecap="round"/></svg>
<div class="t" style="left:76.3px;top:1021.0px;font-size:26.02px;">FK_EmployeeDepartme...</div>
<svg class="a" style="left:36px;top:1057px;" width="32" height="32" viewBox="0 0 32 32">
<g transform="translate(22.6,9.2) rotate(-45)"><rect x="-7.5" y="-4.3" width="15" height="8.6" rx="4.3" fill="none" stroke="#10a6e6" stroke-width="3.6"/></g>
<g transform="translate(9.2,22.6) rotate(-45)"><rect x="-7.5" y="-4.3" width="15" height="8.6" rx="4.3" fill="none" stroke="#10a6e6" stroke-width="3.6"/></g>
<path d="M10.8 21 L21.2 10.8" stroke="#0a74d2" stroke-width="3.8" stroke-linecap="round"/></svg>
<div class="t" style="left:76.3px;top:1061.0px;font-size:26.02px;">FK_EmployeeDepartme...</div>
<svg class="a" style="left:36px;top:1097px;" width="32" height="32" viewBox="0 0 32 32">
<g transform="translate(22.6,9.2) rotate(-45)"><rect x="-7.5" y="-4.3" width="15" height="8.6" rx="4.3" fill="none" stroke="#10a6e6" stroke-width="3.6"/></g>
<g transform="translate(9.2,22.6) rotate(-45)"><rect x="-7.5" y="-4.3" width="15" height="8.6" rx="4.3" fill="none" stroke="#10a6e6" stroke-width="3.6"/></g>
<path d="M10.8 21 L21.2 10.8" stroke="#0a74d2" stroke-width="3.8" stroke-linecap="round"/></svg>
<div class="t" style="left:76.3px;top:1101.1px;font-size:25.84px;">FK_EmployeePayHistory</div>
<svg class="a" style="left:36px;top:1137px;" width="32" height="32" viewBox="0 0 32 32">
<g transform="translate(22.6,9.2) rotate(-45)"><rect x="-7.5" y="-4.3" width="15" height="8.6" rx="4.3" fill="none" stroke="#10a6e6" stroke-width="3.6"/></g>
<g transform="translate(9.2,22.6) rotate(-45)"><rect x="-7.5" y="-4.3" width="15" height="8.6" rx="4.3" fill="none" stroke="#10a6e6" stroke-width="3.6"/></g>
<path d="M10.8 21 L21.2 10.8" stroke="#0a74d2" stroke-width="3.8" stroke-linecap="round"/></svg>
<div class="t" style="left:76.3px;top:1141.3px;font-size:25.66px;">FK_Employee_Contact</div>
<svg class="a" style="left:36px;top:1177px;" width="32" height="32" viewBox="0 0 32 32">
<g transform="translate(22.6,9.2) rotate(-45)"><rect x="-7.5" y="-4.3" width="15" height="8.6" rx="4.3" fill="none" stroke="#10a6e6" stroke-width="3.6"/></g>
<g transform="translate(9.2,22.6) rotate(-45)"><rect x="-7.5" y="-4.3" width="15" height="8.6" rx="4.3" fill="none" stroke="#10a6e6" stroke-width="3.6"/></g>
<path d="M10.8 21 L21.2 10.8" stroke="#0a74d2" stroke-width="3.8" stroke-linecap="round"/></svg>
<div class="t" style="left:76.3px;top:1181.3px;font-size:25.58px;">FK_Employee_Employee</div>
<svg class="a" style="left:36px;top:1217px;" width="32" height="32" viewBox="0 0 32 32">
<g transform="translate(22.6,9.2) rotate(-45)"><rect x="-7.5" y="-4.3" width="15" height="8.6" rx="4.3" fill="none" stroke="#10a6e6" stroke-width="3.6"/></g>
<g transform="translate(9.2,22.6) rotate(-45)"><rect x="-7.5" y="-4.3" width="15" height="8.6" rx="4.3" fill="none" stroke="#10a6e6" stroke-width="3.6"/></g>
<path d="M10.8 21 L21.2 10.8" stroke="#0a74d2" stroke-width="3.8" stroke-linecap="round"/></svg>
<div class="t" style="left:76.3px;top:1221.2px;font-size:25.72px;">FK_JobCandidate</div>
<svg class="a" style="left:36px;top:1257px;" width="32" height="32" viewBox="0 0 32 32">
<g transform="translate(22.6,9.2) rotate(-45)"><rect x="-7.5" y="-4.3" width="15" height="8.6" rx="4.3" fill="none" stroke="#10a6e6" stroke-width="3.6"/></g>
<g transform="translate(9.2,22.6) rotate(-45)"><rect x="-7.5" y="-4.3" width="15" height="8.6" rx="4.3" fill="none" stroke="#10a6e6" stroke-width="3.6"/></g>
<path d="M10.8 21 L21.2 10.8" stroke="#0a74d2" stroke-width="3.8" stroke-linecap="round"/></svg>
<div class="t" style="left:76.3px;top:1260.7px;font-size:26.34px;">FK_ProductVendor</div>
<svg class="a" style="left:36px;top:1297px;" width="32" height="32" viewBox="0 0 32 32">
<g transform="translate(22.6,9.2) rotate(-45)"><rect x="-7.5" y="-4.3" width="15" height="8.6" rx="4.3" fill="none" stroke="#10a6e6" stroke-width="3.6"/></g>
<g transform="translate(9.2,22.6) rotate(-45)"><rect x="-7.5" y="-4.3" width="15" height="8.6" rx="4.3" fill="none" stroke="#10a6e6" stroke-width="3.6"/></g>
<path d="M10.8 21 L21.2 10.8" stroke="#0a74d2" stroke-width="3.8" stroke-linecap="round"/></svg>
<div class="t" style="left:76.3px;top:1301.0px;font-size:26.02px;">FK_PurchaseOrderDetail</div>
<svg class="a" style="left:36px;top:1337px;" width="32" height="32" viewBox="0 0 32 32">
<g transform="translate(22.6,9.2) rotate(-45)"><rect x="-7.5" y="-4.3" width="15" height="8.6" rx="4.3" fill="none" stroke="#10a6e6" stroke-width="3.6"/></g>
<g transform="translate(9.2,22.6) rotate(-45)"><rect x="-7.5" y="-4.3" width="15" height="8.6" rx="4.3" fill="none" stroke="#10a6e6" stroke-width="3.6"/></g>
<path d="M10.8 21 L21.2 10.8" stroke="#0a74d2" stroke-width="3.8" stroke-linecap="round"/></svg>
<div class="t" style="left:76.3px;top:1341.3px;font-size:25.61px;">FK_PurchaseOrderHead...</div>
</div>
<div class="a" style="left:438px;top:226px;width:1652px;height:134px;background:#fff;"></div>
<div class="a" style="left:438px;top:360px;width:1652px;height:2px;background:#e6e6e6;"></div>
<div class="a" style="left:457px;top:243px;width:420px;height:42px;border:2px solid #8a8a8a;border-radius:4px;background:#fff"></div>
<svg class="a" style="left:470px;top:250px;" width="32" height="32" viewBox="0 0 32 32">
<defs><linearGradient id="gm" gradientUnits="objectBoundingBox" x1="0" y1="0" x2="1" y2="1"><stop offset="0" stop-color="#74dba6"/><stop offset="1" stop-color="#58c490"/></linearGradient></defs>
<path d="M12 9.2 H19" stroke="#0b6e35" stroke-width="2"/>
<path d="M18 26.5 H27 V16" fill="none" stroke="#0b6e35" stroke-width="2"/>
<rect x="0" y="0" width="12" height="14" rx="3" fill="url(#gm)"/><path d="M0 4 Q0 0 4 0 H8 Q12 0 12 4Z" fill="#0a9450"/>
<rect x="4" y="18" width="14" height="14" rx="3" fill="url(#gm)"/><path d="M4 22 Q4 18 8 18 H14 Q18 18 18 22Z" fill="#0a9450"/>
<path d="M19 4.5 Q19 0 23 0 H28 Q32 0 32 4.5Z" fill="#0a9a55"/>
<path d="M19 4 V6 M32 4 V6 M19 12.2 V12.5 Q19 16 22 16 M29 16 Q32 16 32 12.5 V12.2 M24.5 16 V16 M32 8.2 V10.2" fill="none" stroke="#0a9a55" stroke-width="2"/>
<rect x="23.3" y="15" width="2" height="2" fill="#0a9a55"/>
</svg>
<div class="t" style="left:506.3px;top:252.7px;font-size:26.36px;">Model_1</div>
<svg class="a" style="left:851px;top:262px;" width="20" height="12" viewBox="0 0 20 12"><path d="M1.5 1.5 L10 10 L18.5 1.5" fill="none" stroke="#555" stroke-width="2"/></svg>
<svg class="a" style="left:914px;top:250px;" width="32" height="32" viewBox="0 0 32 32">
<path d="M12 7 H19 M17.5 27 H25 V16" fill="none" stroke="#1a8cff" stroke-width="1.9"/>
<rect x="1" y="1.5" width="10" height="11.5" rx="2.5" fill="none" stroke="#777" stroke-width="2"/><path d="M0 4.5 V3 Q0 0 3 0 H9 Q12 0 12 3 V4.5Z" fill="#777"/>
<rect x="19" y="1.5" width="12" height="13.5" rx="2.5" fill="none" stroke="#777" stroke-width="2"/><path d="M18 4.5 V3 Q18 0 21 0 H29 Q32 0 32 3 V4.5Z" fill="#777"/>
<rect x="7" y="19.5" width="10" height="11.5" rx="2.5" fill="none" stroke="#777" stroke-width="2"/><path d="M6 22.5 V21 Q6 18 9 18 H15 Q18 18 18 21 V22.5Z" fill="#777"/>
</svg>
<div class="t" style="left:951.3px;top:252.1px;font-size:25.84px;">Existing Model Objects</div>
<svg class="a" style="left:1886px;top:246px;" width="32" height="32" viewBox="0 0 32 32">
<rect x="1" y="1" width="30" height="22.7" rx="1.5" fill="none" stroke="#777" stroke-width="2"/>
<rect x="14.2" y="23.7" width="3.6" height="4.5" fill="#808080"/><rect x="10.2" y="28" width="11.6" height="1.8" fill="#808080"/>
<path d="M10.5 4.8 L22.9 11.8 L10.5 19.2Z" fill="none" stroke="#1a8cff" stroke-width="2" stroke-linejoin="round"/>
</svg>
<div class="t" style="left:1923.4px;top:249.9px;font-size:24.94px;">Present</div>
<svg class="a" style="left:2044px;top:246px;" width="29" height="28" viewBox="0 0 29 28"><path d="M1 9 V1 H9 M20 1 H28 V9 M28 19 V27 H20 M9 27 H1 V19" fill="none" stroke="#1a8cff" stroke-width="2.5"/></svg>
<svg class="a" style="left:466px;top:310px;" width="32" height="32" viewBox="0 0 32 32"><rect x="1" y="1" width="30" height="30" rx="5" fill="none" stroke="#777" stroke-width="2.4"/><path d="M1 7 H31" stroke="#777" stroke-width="2"/>
<path d="M11 8 V31 M21 8 V31 M2 15 H30 M2 23 H30" stroke="#1a8cff" stroke-width="2"/></svg>
<svg class="a" style="left:528px;top:310px;" width="32" height="32" viewBox="0 0 32 32"><g transform="translate(23.3,8.7) rotate(-45)"><rect x="-8.3" y="-5" width="16.6" height="10" rx="5" fill="none" stroke="#777" stroke-width="2.4"/></g>
<g transform="translate(8.7,23.3) rotate(-45)"><rect x="-8.3" y="-5" width="16.6" height="10" rx="5" fill="none" stroke="#777" stroke-width="2.4"/></g>
<path d="M12 20 L20 12" stroke="#1a8cff" stroke-width="2.6" stroke-linecap="round"/></svg>
<svg class="a" style="left:590px;top:310px;" width="32" height="32" viewBox="0 0 32 32"><path d="M4 29 Q1 27 1 23 V6 Q1 1 6 1 H26 Q31 1 31 6 V20" fill="none" stroke="#777" stroke-width="2.4"/>
<path d="M1 7 H31 M1 14 H31 M1 21 H5 M9 7 V20 M21 7 V20" stroke="#777" stroke-width="2"/>
<circle cx="12" cy="25" r="5" fill="#fff" stroke="#1a8cff" stroke-width="2.4"/><circle cx="26" cy="25" r="5" fill="#fff" stroke="#1a8cff" stroke-width="2.4"/><path d="M17 25 H21" stroke="#1a8cff" stroke-width="2"/></svg>
<svg class="a" style="left:652px;top:310px;" width="32" height="32" viewBox="0 0 32 32"><path d="M1 31 L8 1" stroke="#1a8cff" stroke-width="2.2" fill="none"/><path d="M8 1 Q18 -1 19 5 Q19 14 7 12" stroke="#1a8cff" stroke-width="2.2" fill="none"/>
<path d="M18 18 L31 31 M31 18 L18 31" stroke="#1a8cff" stroke-width="2.2"/></svg>
<svg class="a" style="left:714px;top:310px;" width="32" height="32" viewBox="0 0 32 32"><path d="M1 31 Q9 31 11 20 L13 9 Q15 1 22 1" stroke="#1a8cff" stroke-width="2.2" fill="none"/><path d="M5 11 H19" stroke="#1a8cff" stroke-width="2.2"/>
<path d="M18 18 L31 31 M31 18 L18 31" stroke="#1a8cff" stroke-width="2.2"/></svg>
<svg class="a" style="left:808px;top:310px;" width="32" height="32" viewBox="0 0 32 32"><path d="M2 4 H32 M17 4 V30" stroke="#808080" stroke-width="3.4" stroke-linecap="round"/></svg>
<svg class="a" style="left:870px;top:310px;" width="32" height="32" viewBox="0 0 32 32"><path d="M5 1 H27 Q31 1 31 5 V22 L22 31 H5 Q1 31 1 27 V5 Q1 1 5 1Z" fill="none" stroke="#777" stroke-width="2.2"/><path d="M31 22 H26 Q22 22 22 26 V31" fill="none" stroke="#777" stroke-width="2"/>
<path d="M6 9 H26 M6 15 H26 M6 21 H18" stroke="#ff8c00" stroke-width="2"/></svg>
<svg class="a" style="left:932px;top:310px;" width="32" height="32" viewBox="0 0 32 32"><rect x="1" y="3" width="30" height="24" rx="3" fill="none" stroke="#777" stroke-width="2.2"/>
<path d="M2 23 L9 15 L15 21 L21 16 L30 24" fill="none" stroke="#f0506e" stroke-width="2"/><circle cx="21" cy="11" r="2.6" fill="none" stroke="#f0506e" stroke-width="1.6"/></svg>
<svg class="a" style="left:994px;top:310px;" width="32" height="32" viewBox="0 0 32 32"><circle cx="21" cy="11" r="10" fill="none" stroke="#777" stroke-width="2"/><rect x="1" y="12" width="19" height="19" fill="none" stroke="#c04ef0" stroke-width="2.2"/></svg>
<svg class="a" style="left:1056px;top:310px;" width="32" height="32" viewBox="0 0 32 32"><path d="M4 1 H22 Q26 1 26 5 V14 M14 26 H5 Q1 26 1 22 V5 Q1 1 4 1" fill="none" stroke="#777" stroke-width="2.2"/><path d="M1 8 H10 Q14 8 14 4 V1" fill="none" stroke="#777" stroke-width="2"/>
<rect x="17" y="15" width="14" height="14" rx="3" fill="#fff" stroke="#3cc81e" stroke-width="2.2"/><path d="M21 18.5 V25 H27" fill="none" stroke="#3cc81e" stroke-width="2"/></svg>
<svg class="a" style="left:1150px;top:310px;" width="32" height="32" viewBox="0 0 32 32"><rect x="1" y="1" width="11" height="10" rx="2" fill="none" stroke="#777" stroke-width="2"/><path d="M1 6 H12" stroke="#777" stroke-width="1.6"/>
<rect x="1" y="17" width="11" height="10" rx="2" fill="none" stroke="#777" stroke-width="2"/><path d="M1 22 H12" stroke="#777" stroke-width="1.6"/>
<path d="M19 21 L28 30" stroke="#1a8cff" stroke-width="4.5" stroke-linecap="round"/><path d="M19 21 L28 30" stroke="#fff" stroke-width="1.4" stroke-linecap="round"/>
<path d="M18 7 V12 M22 13 L26 9 M24 17 H29" stroke="#1a8cff" stroke-width="2"/></svg>
<div class="a" style="left:776px;top:312px;width:2px;height:30px;background:#cfcfcf;"></div>
<div class="a" style="left:1118px;top:312px;width:2px;height:30px;background:#cfcfcf;"></div>
<div class="a" style="left:2054px;top:362px;width:36px;height:1235px;background:#efefef;"></div>
<div class="a" style="left:2060px;top:384px;width:18px;height:306px;background:#888888;"></div>
<div class="a" style="left:438px;top:362px;width:1616px;height:1235px;overflow:hidden;background:#fff">
<div class="a" style="left:-438px;top:-362px;width:2600px;height:1600px">
<svg class="a" style="left:0;top:0" width="2600" height="1600"><path d="M439 362 V1597" stroke="#efefef" stroke-width="1.5"/><path d="M459 362 V1597" stroke="#efefef" stroke-width="1.5"/><path d="M479 362 V1597" stroke="#efefef" stroke-width="1.5"/><path d="M499 362 V1597" stroke="#efefef" stroke-width="1.5"/><path d="M519 362 V1597" stroke="#efefef" stroke-width="1.5"/><path d="M539 362 V1597" stroke="#efefef" stroke-width="1.5"/><path d="M559 362 V1597" stroke="#efefef" stroke-width="1.5"/><path d="M579 362 V1597" stroke="#efefef" stroke-width="1.5"/><path d="M599 362 V1597" stroke="#e3e3e3" stroke-width="1.5"/><path d="M619 362 V1597" stroke="#efefef" stroke-width="1.5"/><path d="M639 362 V1597" stroke="#efefef" stroke-width="1.5"/><path d="M659 362 V1597" stroke="#efefef" stroke-width="1.5"/><path d="M679 362 V1597" stroke="#efefef" stroke-width="1.5"/><path d="M699 362 V1597" stroke="#efefef" stroke-width="1.5"/><path d="M719 362 V1597" stroke="#efefef" stroke-width="1.5"/><path d="M739 362 V1597" stroke="#efefef" stroke-width="1.5"/><path d="M759 362 V1597" stroke="#efefef" stroke-width="1.5"/><path d="M779 362 V1597" stroke="#efefef" stroke-width="1.5"/><path d="M799 362 V1597" stroke="#e3e3e3" stroke-width="1.5"/><path d="M819 362 V1597" stroke="#efefef" stroke-width="1.5"/><path d="M839 362 V1597" stroke="#efefef" stroke-width="1.5"/><path d="M859 362 V1597" stroke="#efefef" stroke-width="1.5"/><path d="M879 362 V1597" stroke="#efefef" stroke-width="1.5"/><path d="M899 362 V1597" stroke="#efefef" stroke-width="1.5"/><path d="M919 362 V1597" stroke="#efefef" stroke-width="1.5"/><path d="M939 362 V1597" stroke="#efefef" stroke-width="1.5"/><path d="M959 362 V1597" stroke="#efefef" stroke-width="1.5"/><path d="M979 362 V1597" stroke="#efefef" stroke-width="1.5"/><path d="M999 362 V1597" stroke="#e3e3e3" stroke-width="1.5"/><path d="M1019 362 V1597" stroke="#efefef" stroke-width="1.5"/><path d="M1039 362 V1597" stroke="#efefef" stroke-width="1.5"/><path d="M1059 362 V1597" stroke="#efefef" stroke-width="1.5"/><path d="M1079 362 V1597" stroke="#efefef" stroke-width="1.5"/><path d="M1099 362 V1597" stroke="#efefef" stroke-width="1.5"/><path d="M1119 362 V1597" stroke="#efefef" stroke-width="1.5"/><path d="M1139 362 V1597" stroke="#efefef" stroke-width="1.5"/><path d="M1159 362 V1597" stroke="#efefef" stroke-width="1.5"/><path d="M1179 362 V1597" stroke="#efefef" stroke-width="1.5"/><path d="M1199 362 V1597" stroke="#e3e3e3" stroke-width="1.5"/><path d="M1219 362 V1597" stroke="#efefef" stroke-width="1.5"/><path d="M1239 362 V1597" stroke="#efefef" stroke-width="1.5"/><path d="M1259 362 V1597" stroke="#efefef" stroke-width="1.5"/><path d="M1279 362 V1597" stroke="#efefef" stroke-width="1.5"/><path d="M1299 362 V1597" stroke="#efefef" stroke-width="1.5"/><path d="M1319 362 V1597" stroke="#efefef" stroke-width="1.5"/><path d="M1339 362 V1597" stroke="#efefef" stroke-width="1.5"/><path d="M1359 362 V1597" stroke="#efefef" stroke-width="1.5"/><path d="M1379 362 V1597" stroke="#efefef" stroke-width="1.5"/><path d="M1399 362 V1597" stroke="#e3e3e3" stroke-width="1.5"/><path d="M1419 362 V1597" stroke="#efefef" stroke-width="1.5"/><path d="M1439 362 V1597" stroke="#efefef" stroke-width="1.5"/><path d="M1459 362 V1597" stroke="#efefef" stroke-width="1.5"/><path d="M1479 362 V1597" stroke="#efefef" stroke-width="1.5"/><path d="M1499 362 V1597" stroke="#efefef" stroke-width="1.5"/><path d="M1519 362 V1597" stroke="#efefef" stroke-width="1.5"/><path d="M1539 362 V1597" stroke="#efefef" stroke-width="1.5"/><path d="M1559 362 V1597" stroke="#efefef" stroke-width="1.5"/><path d="M1579 362 V1597" stroke="#efefef" stroke-width="1.5"/><path d="M1599 362 V1597" stroke="#e3e3e3" stroke-width="1.5"/><path d="M1619 362 V1597" stroke="#efefef" stroke-width="1.5"/><path d="M1639 362 V1597" stroke="#efefef" stroke-width="1.5"/><path d="M1659 362 V1597" stroke="#efefef" stroke-width="1.5"/><path d="M1679 362 V1597" stroke="#efefef" stroke-width="1.5"/><path d="M1699 362 V1597" stroke="#efefef" stroke-width="1.5"/><path d="M1719 362 V1597" stroke="#efefef" stroke-width="1.5"/><path d="M1739 362 V1597" stroke="#efefef" stroke-width="1.5"/><path d="M1759 362 V1597" stroke="#efefef" stroke-width="1.5"/><path d="M1779 362 V1597" stroke="#efefef" stroke-width="1.5"/><path d="M1799 362 V1597" stroke="#e3e3e3" stroke-width="1.5"/><path d="M1819 362 V1597" stroke="#efefef" stroke-width="1.5"/><path d="M1839 362 V1597" stroke="#efefef" stroke-width="1.5"/><path d="M1859 362 V1597" stroke="#efefef" stroke-width="1.5"/><path d="M1879 362 V1597" stroke="#efefef" stroke-width="1.5"/><path d="M1899 362 V1597" stroke="#efefef" stroke-width="1.5"/><path d="M1919 362 V1597" stroke="#efefef" stroke-width="1.5"/><path d="M1939 362 V1597" stroke="#efefef" stroke-width="1.5"/><path d="M1959 362 V1597" stroke="#efefef" stroke-width="1.5"/><path d="M1979 362 V1597" stroke="#efefef" stroke-width="1.5"/><path d="M1999 362 V1597" stroke="#e3e3e3" stroke-width="1.5"/><path d="M2019 362 V1597" stroke="#efefef" stroke-width="1.5"/><path d="M2039 362 V1597" stroke="#efefef" stroke-width="1.5"/><path d="M438 373.2 H2054" stroke="#efefef" stroke-width="1.5"/><path d="M438 393.2 H2054" stroke="#efefef" stroke-width="1.5"/><path d="M438 413.2 H2054" stroke="#efefef" stroke-width="1.5"/><path d="M438 433.2 H2054" stroke="#efefef" stroke-width="1.5"/><path d="M438 453.2 H2054" stroke="#efefef" stroke-width="1.5"/><path d="M438 473.2 H2054" stroke="#efefef" stroke-width="1.5"/><path d="M438 493.2 H2054" stroke="#e3e3e3" stroke-width="1.5"/><path d="M438 513.2 H2054" stroke="#efefef" stroke-width="1.5"/><path d="M438 533.2 H2054" stroke="#efefef" stroke-width="1.5"/><path d="M438 553.2 H2054" stroke="#efefef" stroke-width="1.5"/><path d="M438 573.2 H2054" stroke="#efefef" stroke-width="1.5"/><path d="M438 593.2 H2054" stroke="#efefef" stroke-width="1.5"/><path d="M438 613.2 H2054" stroke="#efefef" stroke-width="1.5"/><path d="M438 633.2 H2054" stroke="#efefef" stroke-width="1.5"/><path d="M438 653.2 H2054" stroke="#efefef" stroke-width="1.5"/><path d="M438 673.2 H2054" stroke="#efefef" stroke-width="1.5"/><path d="M438 693.2 H2054" stroke="#e3e3e3" stroke-width="1.5"/><path d="M438 713.2 H2054" stroke="#efefef" stroke-width="1.5"/><path d="M438 733.2 H2054" stroke="#efefef" stroke-width="1.5"/><path d="M438 753.2 H2054" stroke="#efefef" stroke-width="1.5"/><path d="M438 773.2 H2054" stroke="#efefef" stroke-width="1.5"/><path d="M438 793.2 H2054" stroke="#efefef" stroke-width="1.5"/><path d="M438 813.2 H2054" stroke="#efefef" stroke-width="1.5"/><path d="M438 833.2 H2054" stroke="#efefef" stroke-width="1.5"/><path d="M438 853.2 H2054" stroke="#efefef" stroke-width="1.5"/><path d="M438 873.2 H2054" stroke="#efefef" stroke-width="1.5"/><path d="M438 893.2 H2054" stroke="#e3e3e3" stroke-width="1.5"/><path d="M438 913.2 H2054" stroke="#efefef" stroke-width="1.5"/><path d="M438 933.2 H2054" stroke="#efefef" stroke-width="1.5"/><path d="M438 953.2 H2054" stroke="#efefef" stroke-width="1.5"/><path d="M438 973.2 H2054" stroke="#efefef" stroke-width="1.5"/><path d="M438 993.2 H2054" stroke="#efefef" stroke-width="1.5"/><path d="M438 1013.2 H2054" stroke="#efefef" stroke-width="1.5"/><path d="M438 1033.2 H2054" stroke="#efefef" stroke-width="1.5"/><path d="M438 1053.2 H2054" stroke="#efefef" stroke-width="1.5"/><path d="M438 1073.2 H2054" stroke="#efefef" stroke-width="1.5"/><path d="M438 1093.2 H2054" stroke="#e3e3e3" stroke-width="1.5"/><path d="M438 1113.2 H2054" stroke="#efefef" stroke-width="1.5"/><path d="M438 1133.2 H2054" stroke="#efefef" stroke-width="1.5"/><path d="M438 1153.2 H2054" stroke="#efefef" stroke-width="1.5"/><path d="M438 1173.2 H2054" stroke="#efefef" stroke-width="1.5"/><path d="M438 1193.2 H2054" stroke="#efefef" stroke-width="1.5"/><path d="M438 1213.2 H2054" stroke="#efefef" stroke-width="1.5"/><path d="M438 1233.2 H2054" stroke="#efefef" stroke-width="1.5"/><path d="M438 1253.2 H2054" stroke="#efefef" stroke-width="1.5"/><path d="M438 1273.2 H2054" stroke="#efefef" stroke-width="1.5"/><path d="M438 1293.2 H2054" stroke="#e3e3e3" stroke-width="1.5"/><path d="M438 1313.2 H2054" stroke="#efefef" stroke-width="1.5"/><path d="M438 1333.2 H2054" stroke="#efefef" stroke-width="1.5"/><path d="M438 1353.2 H2054" stroke="#efefef" stroke-width="1.5"/><path d="M438 1373.2 H2054" stroke="#efefef" stroke-width="1.5"/><path d="M438 1393.2 H2054" stroke="#efefef" stroke-width="1.5"/><path d="M438 1413.2 H2054" stroke="#efefef" stroke-width="1.5"/><path d="M438 1433.2 H2054" stroke="#efefef" stroke-width="1.5"/><path d="M438 1453.2 H2054" stroke="#efefef" stroke-width="1.5"/><path d="M438 1473.2 H2054" stroke="#efefef" stroke-width="1.5"/><path d="M438 1493.2 H2054" stroke="#e3e3e3" stroke-width="1.5"/><path d="M438 1513.2 H2054" stroke="#efefef" stroke-width="1.5"/><path d="M438 1533.2 H2054" stroke="#efefef" stroke-width="1.5"/><path d="M438 1553.2 H2054" stroke="#efefef" stroke-width="1.5"/><path d="M438 1573.2 H2054" stroke="#efefef" stroke-width="1.5"/><path d="M438 1593.2 H2054" stroke="#efefef" stroke-width="1.5"/><rect x="946" y="789" width="1040" height="736" rx="14" fill="rgba(111,195,175,0.25)"/><rect x="946" y="742" width="120" height="46" rx="12" fill="#6dcbb2"/><path d="M1269 361 V400" fill="none" stroke="#6b6b6b" stroke-width="2"/><path d="M438 533 H1044" fill="none" stroke="#6b6b6b" stroke-width="2"/><circle cx="1025" cy="533" r="6.5" fill="none" stroke="#6b6b6b" stroke-width="2"/><path d="M1037 526 V540" fill="none" stroke="#6b6b6b" stroke-width="2"/><path d="M1492 487 H1578" fill="none" stroke="#6b6b6b" stroke-width="2"/><path d="M1499 480 V494" fill="none" stroke="#6b6b6b" stroke-width="2"/><circle cx="1508.5" cy="487" r="6.5" fill="none" stroke="#6b6b6b" stroke-width="2"/><path d="M1563 480 V494" fill="none" stroke="#6b6b6b" stroke-width="2"/><path d="M1571 480 V494" fill="none" stroke="#6b6b6b" stroke-width="2"/><path d="M1872 487 H2054" fill="none" stroke="#6b6b6b" stroke-width="2"/><path d="M1879 480 V494" fill="none" stroke="#6b6b6b" stroke-width="2"/><circle cx="1888" cy="487" r="6.5" fill="none" stroke="#6b6b6b" stroke-width="2"/><path d="M1723 617 V1238" fill="none" stroke="#6b6b6b" stroke-width="2"/><path d="M1716 625.6 H1730" fill="none" stroke="#6b6b6b" stroke-width="2"/><path d="M1716 633 H1730" fill="none" stroke="#6b6b6b" stroke-width="2"/><circle cx="1723" cy="1225" r="6.5" fill="none" stroke="#6b6b6b" stroke-width="2"/><path d="M1716 1235.5 H1730" fill="none" stroke="#6b6b6b" stroke-width="2"/><path d="M1229 740 V826" fill="none" stroke="#6b6b6b" stroke-width="2"/><path d="M1222 746.7 H1236" fill="none" stroke="#6b6b6b" stroke-width="2"/><path d="M1222 755 H1236" fill="none" stroke="#6b6b6b" stroke-width="2"/><circle cx="1229" cy="807" r="6.5" fill="none" stroke="#6b6b6b" stroke-width="2"/><path d="M1222.5 826 L1229 816 L1235.5 826" fill="none" stroke="#6b6b6b" stroke-width="2"/><path d="M826 883 H1066" fill="none" stroke="#6b6b6b" stroke-width="2"/><path d="M833 876 V890" fill="none" stroke="#6b6b6b" stroke-width="2"/><path d="M841.4 876 V890" fill="none" stroke="#6b6b6b" stroke-width="2"/><circle cx="1049" cy="883" r="6.5" fill="none" stroke="#6b6b6b" stroke-width="2"/><path d="M1059 876 V890" fill="none" stroke="#6b6b6b" stroke-width="2"/><path d="M1229 995 V1210" fill="none" stroke="#6b6b6b" stroke-width="2"/><path d="M1222 1003 H1236" fill="none" stroke="#6b6b6b" stroke-width="2"/><circle cx="1229" cy="1013" r="6.5" fill="none" stroke="#6b6b6b" stroke-width="2"/><path d="M1222 1193.7 H1236" fill="none" stroke="#6b6b6b" stroke-width="2"/><path d="M1222 1203 H1236" fill="none" stroke="#6b6b6b" stroke-width="2"/><path d="M438 1058.5 H671 V1150" fill="none" stroke="#6b6b6b" stroke-width="2"/><circle cx="671" cy="1131" r="6.5" fill="none" stroke="#6b6b6b" stroke-width="2"/><path d="M664.5 1150 L671 1140 L677.5 1150" fill="none" stroke="#6b6b6b" stroke-width="2"/><path d="M438 1329 H548.5" fill="none" stroke="#6b6b6b" stroke-width="2"/><path d="M533 1322 V1336" fill="none" stroke="#6b6b6b" stroke-width="2"/><path d="M541 1322 V1336" fill="none" stroke="#6b6b6b" stroke-width="2"/><path d="M910 1329 H1002.6" fill="none" stroke="#6b6b6b" stroke-width="2"/><path d="M910 1322.5 L920 1329 L910 1335.5" fill="none" stroke="#6b6b6b" stroke-width="2"/><circle cx="927" cy="1329" r="6.5" fill="none" stroke="#6b6b6b" stroke-width="2"/><path d="M987 1322 V1336" fill="none" stroke="#6b6b6b" stroke-width="2"/><path d="M995 1322 V1336" fill="none" stroke="#6b6b6b" stroke-width="2"/><path d="M1420 1329 H1544" fill="none" stroke="#6b6b6b" stroke-width="2"/><path d="M1427 1322 V1336" fill="none" stroke="#6b6b6b" stroke-width="2"/><path d="M1435 1322 V1336" fill="none" stroke="#6b6b6b" stroke-width="2"/><circle cx="1528.5" cy="1329" r="6.5" fill="none" stroke="#6b6b6b" stroke-width="2"/><path d="M1539.6 1322 V1336" fill="none" stroke="#6b6b6b" stroke-width="2"/><path d="M1886 1329 H2054" fill="none" stroke="#6b6b6b" stroke-width="2"/><path d="M1886 1322.5 L1896 1329 L1886 1335.5" fill="none" stroke="#6b6b6b" stroke-width="2"/><circle cx="1903" cy="1329" r="6.5" fill="none" stroke="#6b6b6b" stroke-width="2"/><path d="M671 1543 V1574.5 H438" fill="none" stroke="#6b6b6b" stroke-width="2"/><path d="M664.5 1543 L671 1553 L677.5 1543" fill="none" stroke="#6b6b6b" stroke-width="2"/><circle cx="671" cy="1562" r="6.5" fill="none" stroke="#6b6b6b" stroke-width="2"/><path d="M1227 1477 V1597" fill="none" stroke="#6b6b6b" stroke-width="2"/><path d="M1220 1482.6 H1234" fill="none" stroke="#6b6b6b" stroke-width="2"/><path d="M1220 1492.6 H1234" fill="none" stroke="#6b6b6b" stroke-width="2"/></svg>
<div class="a" style="left:594px;top:300px;width:407px;height:106px;border:4px solid #e5a56c;border-radius:17px;background:#fff"></div>
<div class="t" style="left:645.7px;top:368.4px;font-size:20.75px;color:#1a1a1a;transform:scaleY(1.05);transform-origin:0 17.6px;">ModifiedDate: <span style="color:#8c8c8c">datetime</span></div>
<div class="a" style="left:1044px;top:400px;width:440px;height:164px;border:4px solid #e5a56c;border-radius:17px;background:#fff"></div>
<div class="a" style="left:1044px;top:400px;width:448px;height:50px;background:#e5a56c;border-radius:17px 17px 0 0"></div>
<div class="t" style="left:1045.0px;width:448px;text-align:center;top:415.1px;font-size:21.95px;transform:scaleY(1.06);transform-origin:50% 18.6px;">HumanResources.EmployeeAddress</div>
<svg class="a" style="left:1058px;top:458.3px;" width="30" height="28" viewBox="0 0 30 28"><defs><linearGradient id="kg" gradientUnits="userSpaceOnUse" x1="0" y1="0" x2="0" y2="28"><stop offset="0" stop-color="#f3c200"/><stop offset="1" stop-color="#ff8a00"/></linearGradient></defs>
<path fill="url(#kg)" fill-rule="evenodd" d="M20 0 A10 10 0 1 1 20 20 A10 10 0 1 1 20 0Z M21 6.1 A2.9 2.9 0 1 0 21 11.9 A2.9 2.9 0 1 0 21 6.1Z"/>
<path fill="url(#kg)" d="M0 21 L11 10 L15.5 15 L10 20.3 L10 24 L6 24 L6 28 L0 28Z"/></svg>
<div class="t" style="left:1098.7px;top:461.1px;font-size:20.0px;color:#1a1a1a;transform:scaleY(1.05);transform-origin:0 16.9px;">EmployeeID: <span style="color:#8c8c8c">int</span></div>
<svg class="a" style="left:1058px;top:492.3px;" width="30" height="28" viewBox="0 0 30 28"><defs><linearGradient id="kg" gradientUnits="userSpaceOnUse" x1="0" y1="0" x2="0" y2="28"><stop offset="0" stop-color="#f3c200"/><stop offset="1" stop-color="#ff8a00"/></linearGradient></defs>
<path fill="url(#kg)" fill-rule="evenodd" d="M20 0 A10 10 0 1 1 20 20 A10 10 0 1 1 20 0Z M21 6.1 A2.9 2.9 0 1 0 21 11.9 A2.9 2.9 0 1 0 21 6.1Z"/>
<path fill="url(#kg)" d="M0 21 L11 10 L15.5 15 L10 20.3 L10 24 L6 24 L6 28 L0 28Z"/></svg>
<div class="t" style="left:1098.7px;top:495.2px;font-size:19.8px;color:#1a1a1a;transform:scaleY(1.05);transform-origin:0 16.8px;">AddressID: <span style="color:#8c8c8c">int</span></div>
<div class="t" style="left:1098.7px;top:529.1px;font-size:20.0px;color:#8c8c8c;transform:scaleY(1.05);transform-origin:0 16.9px;">2 more columns...</div>
<div class="a" style="left:1578px;top:354px;width:286px;height:255.5px;border:4px solid #ffc92a;border-radius:17px;background:#fff"></div>
<div class="a" style="left:1578px;top:354px;width:294px;height:50px;background:#ffc92a;border-radius:17px 17px 0 0"></div>
<div class="t" style="left:1578.8px;width:294px;text-align:center;top:369.7px;font-size:21.6px;transform:scaleY(1.06);transform-origin:50% 18.3px;">Person.Address</div>
<svg class="a" style="left:1592px;top:412.3px;" width="30" height="28" viewBox="0 0 30 28"><defs><linearGradient id="kg" gradientUnits="userSpaceOnUse" x1="0" y1="0" x2="0" y2="28"><stop offset="0" stop-color="#f3c200"/><stop offset="1" stop-color="#ff8a00"/></linearGradient></defs>
<path fill="url(#kg)" fill-rule="evenodd" d="M20 0 A10 10 0 1 1 20 20 A10 10 0 1 1 20 0Z M21 6.1 A2.9 2.9 0 1 0 21 11.9 A2.9 2.9 0 1 0 21 6.1Z"/>
<path fill="url(#kg)" d="M0 21 L11 10 L15.5 15 L10 20.3 L10 24 L6 24 L6 28 L0 28Z"/></svg>
<div class="t" style="left:1632.7px;top:415.2px;font-size:19.8px;color:#1a1a1a;transform:scaleY(1.05);transform-origin:0 16.8px;">AddressID: <span style="color:#8c8c8c">int</span></div>
<svg class="a" style="left:1602px;top:446px;" width="18" height="18" viewBox="0 0 18 18"><path d="M9 1.2 L16.8 9 L9 16.8 L1.2 9Z" fill="#e2e2e2" stroke="#9a9a9a" stroke-width="1.6" stroke-linejoin="round"/></svg>
<div class="t" style="left:1632.7px;top:447.7px;font-size:19.26px;color:#1a1a1a;transform:scaleY(1.05);transform-origin:0 16.3px;">AddressLine1: <span style="color:#8c8c8c">nvarchar(...</span></div>
<svg class="a" style="left:1602px;top:477.5px;" width="18" height="18" viewBox="0 0 18 18"><path d="M9 1.2 L16.8 9 L9 16.8 L1.2 9Z" fill="#e2e2e2" stroke="#9a9a9a" stroke-width="1.6" stroke-linejoin="round"/></svg>
<div class="t" style="left:1632.7px;top:479.2px;font-size:19.26px;color:#1a1a1a;transform:scaleY(1.05);transform-origin:0 16.3px;">AddressLine2: <span style="color:#8c8c8c">nvarchar(...</span></div>
<svg class="a" style="left:1602px;top:509.5px;" width="18" height="18" viewBox="0 0 18 18"><path d="M9 1.2 L16.8 9 L9 16.8 L1.2 9Z" fill="#e2e2e2" stroke="#9a9a9a" stroke-width="1.6" stroke-linejoin="round"/></svg>
<div class="t" style="left:1632.7px;top:510.9px;font-size:19.56px;color:#1a1a1a;transform:scaleY(1.05);transform-origin:0 16.6px;">City: <span style="color:#8c8c8c">nvarchar(30)</span></div>
<svg class="a" style="left:1602px;top:541.5px;" width="18" height="18" viewBox="0 0 18 18"><path d="M9 1.2 L16.8 9 L9 16.8 L1.2 9Z" fill="#e2e2e2" stroke="#9a9a9a" stroke-width="1.6" stroke-linejoin="round"/></svg>
<div class="t" style="left:1632.7px;top:542.8px;font-size:19.74px;color:#1a1a1a;transform:scaleY(1.05);transform-origin:0 16.7px;">StateProvinceID: <span style="color:#8c8c8c">int</span></div>
<div class="t" style="left:1632.7px;top:576.1px;font-size:20.0px;color:#8c8c8c;transform:scaleY(1.05);transform-origin:0 16.9px;">2 more columns...</div>
<div class="a" style="left:520px;top:598px;width:298px;height:421px;border:4px solid #ffc92a;border-radius:17px;background:#fff"></div>
<div class="a" style="left:520px;top:598px;width:306px;height:50px;background:#ffc92a;border-radius:17px 17px 0 0"></div>
<div class="t" style="left:515.3px;width:306px;text-align:center;top:613.4px;font-size:22.0px;transform:scaleY(1.06);transform-origin:50% 18.6px;">Person.Contact</div>
<svg class="a" style="left:534px;top:655.3px;" width="30" height="28" viewBox="0 0 30 28"><defs><linearGradient id="kg" gradientUnits="userSpaceOnUse" x1="0" y1="0" x2="0" y2="28"><stop offset="0" stop-color="#f3c200"/><stop offset="1" stop-color="#ff8a00"/></linearGradient></defs>
<path fill="url(#kg)" fill-rule="evenodd" d="M20 0 A10 10 0 1 1 20 20 A10 10 0 1 1 20 0Z M21 6.1 A2.9 2.9 0 1 0 21 11.9 A2.9 2.9 0 1 0 21 6.1Z"/>
<path fill="url(#kg)" d="M0 21 L11 10 L15.5 15 L10 20.3 L10 24 L6 24 L6 28 L0 28Z"/></svg>
<div class="t" style="left:568.3px;top:658.3px;font-size:19.71px;color:#1a1a1a;transform:scaleY(1.05);transform-origin:0 16.7px;">ContactTypeID: <span style="color:#8c8c8c">int</span></div>
<div class="t" style="left:568.3px;top:691.5px;font-size:19.43px;color:#1a1a1a;transform:scaleY(1.05);transform-origin:0 16.5px;">NameStyle: <span style="color:#8c8c8c">[dbo].[NameSt...</span></div>
<div class="t" style="left:568.3px;top:723.2px;font-size:19.25px;color:#1a1a1a;transform:scaleY(1.05);transform-origin:0 16.3px;">Title: <span style="color:#8c8c8c">nvarchar(8)</span></div>
<div class="t" style="left:568.3px;top:755.4px;font-size:19.64px;color:#1a1a1a;transform:scaleY(1.05);transform-origin:0 16.6px;">FirstName: <span style="color:#8c8c8c">[dbo].[Name](0...</span></div>
<div class="t" style="left:568.3px;top:787.0px;font-size:20.1px;color:#1a1a1a;transform:scaleY(1.05);transform-origin:0 17.0px;">MiddleName: <span style="color:#8c8c8c">[dbo].[Name]...</span></div>
<div class="t" style="left:568.3px;top:819.1px;font-size:19.6px;color:#1a1a1a;transform:scaleY(1.05);transform-origin:0 16.6px;">LastName: <span style="color:#8c8c8c">[dbo].[Name](0...</span></div>
<div class="t" style="left:568.4px;top:851.2px;font-size:19.21px;color:#1a1a1a;transform:scaleY(1.05);transform-origin:0 16.3px;">Suffix: <span style="color:#8c8c8c">nvarchar(10)</span></div>
<div class="t" style="left:568.4px;top:883.3px;font-size:19.13px;color:#1a1a1a;transform:scaleY(1.05);transform-origin:0 16.2px;">EmailAddress: <span style="color:#8c8c8c">nvarchar(50)</span></div>
<div class="t" style="left:568.3px;top:914.8px;font-size:20.01px;color:#1a1a1a;transform:scaleY(1.05);transform-origin:0 16.9px;">EmailPromotion: <span style="color:#8c8c8c">int</span></div>
<div class="t" style="left:568.3px;top:946.8px;font-size:19.6px;color:#1a1a1a;transform:scaleY(1.05);transform-origin:0 16.6px;">Phone: <span style="color:#8c8c8c">[dbo].[Phone](0,0)</span></div>
<div class="t" style="left:568.3px;top:982.4px;font-size:19.58px;color:#8c8c8c;transform:scaleY(1.05);transform-origin:0 16.6px;">5 more columns...</div>
<div class="a" style="left:1096px;top:598px;width:286px;height:134px;border:4px solid #ffc92a;border-radius:17px;background:#fff"></div>
<div class="a" style="left:1096px;top:598px;width:294px;height:49.5px;background:#ffc92a;border-radius:17px 17px 0 0"></div>
<div class="t" style="left:1097.0px;width:294px;text-align:center;top:613.4px;font-size:22.0px;transform:scaleY(1.06);transform-origin:50% 18.6px;">Person.ContactType</div>
<svg class="a" style="left:1110px;top:656.3px;" width="30" height="28" viewBox="0 0 30 28"><defs><linearGradient id="kg" gradientUnits="userSpaceOnUse" x1="0" y1="0" x2="0" y2="28"><stop offset="0" stop-color="#f3c200"/><stop offset="1" stop-color="#ff8a00"/></linearGradient></defs>
<path fill="url(#kg)" fill-rule="evenodd" d="M20 0 A10 10 0 1 1 20 20 A10 10 0 1 1 20 0Z M21 6.1 A2.9 2.9 0 1 0 21 11.9 A2.9 2.9 0 1 0 21 6.1Z"/>
<path fill="url(#kg)" d="M0 21 L11 10 L15.5 15 L10 20.3 L10 24 L6 24 L6 28 L0 28Z"/></svg>
<div class="t" style="left:1143.7px;top:659.3px;font-size:19.71px;color:#1a1a1a;transform:scaleY(1.05);transform-origin:0 16.7px;">ContactTypeID: <span style="color:#8c8c8c">int</span></div>
<div class="t" style="left:1143.7px;top:697.1px;font-size:20.0px;color:#8c8c8c;transform:scaleY(1.05);transform-origin:0 16.9px;">2 more columns...</div>
<div class="t" style="left:946.7px;width:120px;text-align:center;top:752.7px;font-size:24.77px;transform:scaleY(1.06);transform-origin:50% 21.0px;">Vendor</div>
<div class="a" style="left:1066px;top:826px;width:318px;height:161px;border:4px solid #64b3f4;border-radius:17px;background:#fff"></div>
<div class="a" style="left:1066px;top:826px;width:326px;height:50px;background:#64b3f4;border-radius:17px 17px 0 0"></div>
<div class="t" style="left:1069.4px;width:326px;text-align:center;top:840.0px;font-size:22.4px;transform:scaleY(1.06);transform-origin:50% 19.0px;">Purchasing.VendorContact</div>
<svg class="a" style="left:1080px;top:883.9px;" width="30" height="28" viewBox="0 0 30 28"><defs><linearGradient id="kg" gradientUnits="userSpaceOnUse" x1="0" y1="0" x2="0" y2="28"><stop offset="0" stop-color="#f3c200"/><stop offset="1" stop-color="#ff8a00"/></linearGradient></defs>
<path fill="url(#kg)" fill-rule="evenodd" d="M20 0 A10 10 0 1 1 20 20 A10 10 0 1 1 20 0Z M21 6.1 A2.9 2.9 0 1 0 21 11.9 A2.9 2.9 0 1 0 21 6.1Z"/>
<path fill="url(#kg)" d="M0 21 L11 10 L15.5 15 L10 20.3 L10 24 L6 24 L6 28 L0 28Z"/></svg>
<div class="t" style="left:1113.7px;top:886.4px;font-size:20.26px;color:#1a1a1a;transform:scaleY(1.05);transform-origin:0 17.2px;">VendorID: <span style="color:#8c8c8c">int</span></div>
<svg class="a" style="left:1080px;top:915.9px;" width="30" height="28" viewBox="0 0 30 28"><defs><linearGradient id="kg" gradientUnits="userSpaceOnUse" x1="0" y1="0" x2="0" y2="28"><stop offset="0" stop-color="#f3c200"/><stop offset="1" stop-color="#ff8a00"/></linearGradient></defs>
<path fill="url(#kg)" fill-rule="evenodd" d="M20 0 A10 10 0 1 1 20 20 A10 10 0 1 1 20 0Z M21 6.1 A2.9 2.9 0 1 0 21 11.9 A2.9 2.9 0 1 0 21 6.1Z"/>
<path fill="url(#kg)" d="M0 21 L11 10 L15.5 15 L10 20.3 L10 24 L6 24 L6 28 L0 28Z"/></svg>
<div class="t" style="left:1113.7px;top:918.3px;font-size:20.38px;color:#1a1a1a;transform:scaleY(1.05);transform-origin:0 17.3px;">ContactID: <span style="color:#8c8c8c">int</span></div>
<div class="t" style="left:1113.7px;top:952.5px;font-size:20.0px;color:#8c8c8c;transform:scaleY(1.05);transform-origin:0 16.9px;">2 more columns...</div>
<div class="a" style="left:548.5px;top:1150px;width:353.5px;height:385px;border:4px solid #64b3f4;border-radius:17px;background:#fff"></div>
<div class="a" style="left:548.5px;top:1150px;width:361.5px;height:50px;background:#64b3f4;border-radius:17px 17px 0 0"></div>
<div class="t" style="left:547.8px;width:361.5px;text-align:center;top:1165.7px;font-size:21.3px;transform:scaleY(1.06);transform-origin:50% 18.0px;">Purchasing.PurchaseOrderHeader</div>
<svg class="a" style="left:561.5px;top:1208.3px;" width="30" height="28" viewBox="0 0 30 28"><defs><linearGradient id="kg" gradientUnits="userSpaceOnUse" x1="0" y1="0" x2="0" y2="28"><stop offset="0" stop-color="#f3c200"/><stop offset="1" stop-color="#ff8a00"/></linearGradient></defs>
<path fill="url(#kg)" fill-rule="evenodd" d="M20 0 A10 10 0 1 1 20 20 A10 10 0 1 1 20 0Z M21 6.1 A2.9 2.9 0 1 0 21 11.9 A2.9 2.9 0 1 0 21 6.1Z"/>
<path fill="url(#kg)" d="M0 21 L11 10 L15.5 15 L10 20.3 L10 24 L6 24 L6 28 L0 28Z"/></svg>
<div class="t" style="left:595.8px;top:1212.2px;font-size:18.64px;color:#1a1a1a;transform:scaleY(1.05);transform-origin:0 15.8px;">PurchaseOrderID: <span style="color:#8c8c8c">int</span></div>
<div class="t" style="left:595.7px;top:1243.7px;font-size:19.27px;color:#1a1a1a;transform:scaleY(1.05);transform-origin:0 16.3px;">RevisionNumber: <span style="color:#8c8c8c">tinyint</span></div>
<div class="t" style="left:595.8px;top:1276.0px;font-size:18.84px;color:#1a1a1a;transform:scaleY(1.05);transform-origin:0 16.0px;">Status: <span style="color:#8c8c8c">tinyint</span></div>
<svg class="a" style="left:571.5px;top:1306px;" width="18" height="18" viewBox="0 0 18 18"><path d="M9 1.2 L16.8 9 L9 16.8 L1.2 9Z" fill="#e2e2e2" stroke="#9a9a9a" stroke-width="1.6" stroke-linejoin="round"/></svg>
<div class="t" style="left:595.7px;top:1307.1px;font-size:20.0px;color:#1a1a1a;transform:scaleY(1.05);transform-origin:0 16.9px;">EmployeeID: <span style="color:#8c8c8c">int</span></div>
<svg class="a" style="left:571.5px;top:1338px;" width="18" height="18" viewBox="0 0 18 18"><path d="M9 1.2 L16.8 9 L9 16.8 L1.2 9Z" fill="#e2e2e2" stroke="#9a9a9a" stroke-width="1.6" stroke-linejoin="round"/></svg>
<div class="t" style="left:595.7px;top:1338.8px;font-size:20.26px;color:#1a1a1a;transform:scaleY(1.05);transform-origin:0 17.2px;">VendorID: <span style="color:#8c8c8c">int</span></div>
<div class="t" style="left:595.7px;top:1371.6px;font-size:19.37px;color:#1a1a1a;transform:scaleY(1.05);transform-origin:0 16.4px;">ShipMethodID: <span style="color:#8c8c8c">int</span></div>
<div class="t" style="left:595.8px;top:1403.8px;font-size:19.14px;color:#1a1a1a;transform:scaleY(1.05);transform-origin:0 16.2px;">OrderDate: <span style="color:#8c8c8c">datetime</span></div>
<div class="t" style="left:595.8px;top:1436.0px;font-size:18.95px;color:#1a1a1a;transform:scaleY(1.05);transform-origin:0 16.0px;">ShipDate: <span style="color:#8c8c8c">datetime</span></div>
<div class="t" style="left:595.8px;top:1468.1px;font-size:18.8px;color:#1a1a1a;transform:scaleY(1.05);transform-origin:0 15.9px;">SubTotal: <span style="color:#8c8c8c">money</span></div>
<div class="t" style="left:595.7px;top:1499.4px;font-size:19.58px;color:#8c8c8c;transform:scaleY(1.05);transform-origin:0 16.6px;">5 more columns...</div>
<div class="a" style="left:1002.6px;top:1210px;width:409.4px;height:259px;border:4px solid #64b3f4;border-radius:17px;background:#fff"></div>
<div class="a" style="left:1002.6px;top:1210px;width:417.4px;height:50px;background:#64b3f4;border-radius:17px 17px 0 0"></div>
<div class="t" style="left:1001.5px;width:417.4px;text-align:center;top:1224.8px;font-size:22.35px;transform:scaleY(1.06);transform-origin:50% 18.9px;">Purchasing.Vendor</div>
<svg class="a" style="left:1015.6px;top:1267.7px;" width="30" height="28" viewBox="0 0 30 28"><defs><linearGradient id="kg" gradientUnits="userSpaceOnUse" x1="0" y1="0" x2="0" y2="28"><stop offset="0" stop-color="#f3c200"/><stop offset="1" stop-color="#ff8a00"/></linearGradient></defs>
<path fill="url(#kg)" fill-rule="evenodd" d="M20 0 A10 10 0 1 1 20 20 A10 10 0 1 1 20 0Z M21 6.1 A2.9 2.9 0 1 0 21 11.9 A2.9 2.9 0 1 0 21 6.1Z"/>
<path fill="url(#kg)" d="M0 21 L11 10 L15.5 15 L10 20.3 L10 24 L6 24 L6 28 L0 28Z"/></svg>
<div class="t" style="left:1050.2px;top:1270.2px;font-size:20.26px;color:#1a1a1a;transform:scaleY(1.05);transform-origin:0 17.2px;">VendorID: <span style="color:#8c8c8c">int</span></div>
<svg class="a" style="left:1015.6px;top:1299.8999999999999px;" width="30" height="28" viewBox="0 0 30 28"><defs><linearGradient id="kg" gradientUnits="userSpaceOnUse" x1="0" y1="0" x2="0" y2="28"><stop offset="0" stop-color="#f3c200"/><stop offset="1" stop-color="#ff8a00"/></linearGradient></defs>
<path fill="url(#kg)" fill-rule="evenodd" d="M20 0 A10 10 0 1 1 20 20 A10 10 0 1 1 20 0Z M21 6.1 A2.9 2.9 0 1 0 21 11.9 A2.9 2.9 0 1 0 21 6.1Z"/>
<path fill="url(#kg)" d="M0 21 L11 10 L15.5 15 L10 20.3 L10 24 L6 24 L6 28 L0 28Z"/></svg>
<div class="t" style="left:1050.2px;top:1303.3px;font-size:19.28px;color:#1a1a1a;transform:scaleY(1.05);transform-origin:0 16.3px;">AccountNumber: <span style="color:#8c8c8c">[dbo].[AccountNumber]...</span></div>
<div class="t" style="left:1050.3px;top:1335.0px;font-size:18.95px;color:#1a1a1a;transform:scaleY(1.05);transform-origin:0 16.0px;">Name: <span style="color:#8c8c8c">[dbo].[Name](0,0)</span></div>
<div class="t" style="left:1050.3px;top:1367.5px;font-size:19.08px;color:#1a1a1a;transform:scaleY(1.05);transform-origin:0 16.2px;">CreditRating: <span style="color:#8c8c8c">tinyint</span></div>
<div class="t" style="left:1050.3px;top:1399.3px;font-size:18.58px;color:#1a1a1a;transform:scaleY(1.05);transform-origin:0 15.7px;">PreferredVendorStatus: <span style="color:#8c8c8c">[dbo].[Flag](0,0)</span></div>
<div class="t" style="left:1050.2px;top:1432.1px;font-size:20.0px;color:#8c8c8c;transform:scaleY(1.05);transform-origin:0 16.9px;">2 more columns...</div>
<div class="a" style="left:1544px;top:1238px;width:334px;height:161px;border:4px solid #64b3f4;border-radius:17px;background:#fff"></div>
<div class="a" style="left:1544px;top:1238px;width:342px;height:49px;background:#64b3f4;border-radius:17px 17px 0 0"></div>
<div class="t" style="left:1539.0px;width:342px;text-align:center;top:1253.2px;font-size:22.25px;transform:scaleY(1.06);transform-origin:50% 18.8px;">Purchasing.VendorAddress</div>
<svg class="a" style="left:1558px;top:1296.3px;" width="30" height="28" viewBox="0 0 30 28"><defs><linearGradient id="kg" gradientUnits="userSpaceOnUse" x1="0" y1="0" x2="0" y2="28"><stop offset="0" stop-color="#f3c200"/><stop offset="1" stop-color="#ff8a00"/></linearGradient></defs>
<path fill="url(#kg)" fill-rule="evenodd" d="M20 0 A10 10 0 1 1 20 20 A10 10 0 1 1 20 0Z M21 6.1 A2.9 2.9 0 1 0 21 11.9 A2.9 2.9 0 1 0 21 6.1Z"/>
<path fill="url(#kg)" d="M0 21 L11 10 L15.5 15 L10 20.3 L10 24 L6 24 L6 28 L0 28Z"/></svg>
<div class="t" style="left:1591.7px;top:1298.8px;font-size:20.26px;color:#1a1a1a;transform:scaleY(1.05);transform-origin:0 17.2px;">VendorID: <span style="color:#8c8c8c">int</span></div>
<svg class="a" style="left:1558px;top:1328.8px;" width="30" height="28" viewBox="0 0 30 28"><defs><linearGradient id="kg" gradientUnits="userSpaceOnUse" x1="0" y1="0" x2="0" y2="28"><stop offset="0" stop-color="#f3c200"/><stop offset="1" stop-color="#ff8a00"/></linearGradient></defs>
<path fill="url(#kg)" fill-rule="evenodd" d="M20 0 A10 10 0 1 1 20 20 A10 10 0 1 1 20 0Z M21 6.1 A2.9 2.9 0 1 0 21 11.9 A2.9 2.9 0 1 0 21 6.1Z"/>
<path fill="url(#kg)" d="M0 21 L11 10 L15.5 15 L10 20.3 L10 24 L6 24 L6 28 L0 28Z"/></svg>
<div class="t" style="left:1591.7px;top:1331.7px;font-size:19.8px;color:#1a1a1a;transform:scaleY(1.05);transform-origin:0 16.8px;">AddressID: <span style="color:#8c8c8c">int</span></div>
<div class="t" style="left:1591.7px;top:1365.1px;font-size:20.0px;color:#8c8c8c;transform:scaleY(1.05);transform-origin:0 16.9px;">2 more columns...</div>
<svg class="a" style="left:516px;top:482px;" width="32" height="32" viewBox="0 0 32 32"><g transform="translate(23,9) rotate(-45)"><rect x="-8" y="-5.6" width="16" height="11.2" rx="5.3" fill="none" stroke="#7a7a7a" stroke-width="2.1"/></g>
<g transform="translate(9,23) rotate(-45)"><rect x="-8" y="-5.6" width="16" height="11.2" rx="5.3" fill="none" stroke="#7a7a7a" stroke-width="2.1"/></g>
<path d="M12 20 L20 12" stroke="#0a84ff" stroke-width="2.6" stroke-linecap="round"/></svg>
<div class="t" style="left:556.1px;top:491.1px;font-size:21.69px;color:#111;transform:scaleY(1.05);transform-origin:0 18.4px;">FK_EmployeeAddress_Employee_EmployeeID</div>
<svg class="a" style="left:834px;top:898px;" width="32" height="32" viewBox="0 0 32 32"><g transform="translate(23,9) rotate(-45)"><rect x="-8" y="-5.6" width="16" height="11.2" rx="5.3" fill="none" stroke="#7a7a7a" stroke-width="2.1"/></g>
<g transform="translate(9,23) rotate(-45)"><rect x="-8" y="-5.6" width="16" height="11.2" rx="5.3" fill="none" stroke="#7a7a7a" stroke-width="2.1"/></g>
<path d="M12 20 L20 12" stroke="#0a84ff" stroke-width="2.6" stroke-linecap="round"/></svg>
<div class="t" style="left:872.2px;top:905.8px;font-size:22.03px;color:#111;transform:scaleY(1.05);transform-origin:0 18.7px;">FK_VendorContact</div>
<svg class="a" style="left:1238px;top:1090px;" width="32" height="32" viewBox="0 0 32 32"><g transform="translate(23,9) rotate(-45)"><rect x="-8" y="-5.6" width="16" height="11.2" rx="5.3" fill="none" stroke="#7a7a7a" stroke-width="2.1"/></g>
<g transform="translate(9,23) rotate(-45)"><rect x="-8" y="-5.6" width="16" height="11.2" rx="5.3" fill="none" stroke="#7a7a7a" stroke-width="2.1"/></g>
<path d="M12 20 L20 12" stroke="#0a84ff" stroke-width="2.6" stroke-linecap="round"/></svg>
<div class="t" style="left:1277.1px;top:1098.8px;font-size:22.05px;color:#111;transform:scaleY(1.05);transform-origin:0 18.7px;">FK_VendorContact_Vendor_VendorID</div>
<svg class="a" style="left:1734px;top:914px;" width="32" height="32" viewBox="0 0 32 32"><g transform="translate(23,9) rotate(-45)"><rect x="-8" y="-5.6" width="16" height="11.2" rx="5.3" fill="none" stroke="#7a7a7a" stroke-width="2.1"/></g>
<g transform="translate(9,23) rotate(-45)"><rect x="-8" y="-5.6" width="16" height="11.2" rx="5.3" fill="none" stroke="#7a7a7a" stroke-width="2.1"/></g>
<path d="M12 20 L20 12" stroke="#0a84ff" stroke-width="2.6" stroke-linecap="round"/></svg>
<div class="t" style="left:1771.6px;top:922.0px;font-size:21.9px;color:#111;transform:scaleY(1.05);transform-origin:0 18.5px;">FK_VendorAddress_Address_AddressID</div>
</div></div>
<div class="a" style="left:2090px;top:226px;width:3px;height:890px;background:#ececec;"></div>
<div class="a" style="left:2093px;top:226px;width:507px;height:890px;background:#fff;"></div>
<svg class="a" style="left:2328px;top:242px;" width="30" height="32" viewBox="0 0 30 32"><path d="M15 1.9 L27.8 9.2 V23 L15 30.1 L2 23 V9.2Z" fill="none" stroke="#1a80f0" stroke-width="3.8" stroke-linejoin="round"/><path d="M4 10 L15 16.5 L26 10 M15 16.5 V29" fill="none" stroke="#1a80f0" stroke-width="2"/></svg>
<div class="t" style="left:2127.1px;top:282.7px;font-size:29.88px;color:#9a9a9a;font-weight:700;">Diagram</div>
<div class="t" style="left:2127.2px;top:344.9px;font-size:27.34px;">Diagram Notation</div>
<div class="a" style="left:2128.5px;top:382.8px;width:421.0px;height:42.599999999999966px;border:2px solid #8a8a8a;border-radius:4px;background:#fff"></div>
<div class="t" style="left:2133.3px;top:393.3px;font-size:26.79px;">Default</div>
<svg class="a" style="left:2525px;top:401.1px;" width="17" height="10" viewBox="0 0 17 10"><path d="M1 1 L8.5 9 L16 1" fill="none" stroke="#555" stroke-width="2"/></svg>
<div class="t" style="left:2127.3px;top:464.0px;font-size:25.98px;">Database Object Font</div>
<div class="a" style="left:2128.5px;top:500.6px;width:421.0px;height:42.39999999999998px;border:2px solid #8a8a8a;border-radius:4px;background:#fff"></div>
<div class="t" style="left:2133.3px;top:511.3px;font-size:26.79px;">Default</div>
<svg class="a" style="left:2525px;top:518.8px;" width="17" height="10" viewBox="0 0 17 10"><path d="M1 1 L8.5 9 L16 1" fill="none" stroke="#555" stroke-width="2"/></svg>
<div class="a" style="left:2128.5px;top:558.4px;width:89px;height:43px;border:2px solid #c8c8c8;border-radius:4px;background:#fff"></div>
<div class="t" style="left:2133.4px;top:569.4px;font-size:24.01px;">14</div>
<svg class="a" style="left:2196px;top:577px;" width="14" height="9" viewBox="0 0 14 9"><path d="M1 1 L7 7.5 L13 1" fill="none" stroke="#555" stroke-width="1.8"/></svg>
<div class="a" style="left:2128px;top:640.5px;width:23px;height:23px;border:2px solid #bdbdbd;border-radius:5px;background:#f6f6f6"></div>
<div class="t" style="left:2162.8px;top:640.6px;font-size:26.41px;">Black and white</div>
<div class="a" style="left:2128px;top:685.8px;width:23px;height:23px;border:2px solid #bdbdbd;border-radius:5px;background:#f6f6f6"></div>
<div class="t" style="left:2162.8px;top:686.1px;font-size:26.27px;">Show database object comments</div>
<div class="a" style="left:2128px;top:730.5px;width:23px;height:23px;border:2px solid #bdbdbd;border-radius:5px;background:#f6f6f6"></div>
<div class="t" style="left:2162.8px;top:730.5px;font-size:26.58px;">Show table field comments</div>
<div class="a" style="left:2128px;top:775.5px;width:23px;height:23px;border:2px solid #bdbdbd;border-radius:5px;background:#f6f6f6"></div>
<div class="t" style="left:2162.8px;top:776.1px;font-size:25.91px;">Show table field NOT NULL</div>
<div class="a" style="left:2128px;top:820.5px;width:27px;height:27px;border-radius:5px;background:#0f62c5"></div>
<svg class="a" style="left:2128px;top:820.5px;" width="27" height="27" viewBox="0 0 27 27"><path d="M5.5 13.5 L12 20.5 L22.5 9" fill="none" stroke="#fff" stroke-width="1.8"/></svg>
<div class="t" style="left:2162.8px;top:820.8px;font-size:26.18px;">Show table icons</div>
<div class="a" style="left:2128px;top:865.5px;width:27px;height:27px;border-radius:5px;background:#0f62c5"></div>
<svg class="a" style="left:2128px;top:865.5px;" width="27" height="27" viewBox="0 0 27 27"><path d="M5.5 13.5 L12 20.5 L22.5 9" fill="none" stroke="#fff" stroke-width="1.8"/></svg>
<div class="t" style="left:2162.8px;top:865.6px;font-size:26.44px;">Show collection subfields</div>
<div class="a" style="left:2128px;top:910.0px;width:23px;height:23px;border:2px solid #bdbdbd;border-radius:5px;background:#f6f6f6"></div>
<div class="t" style="left:2162.8px;top:910.9px;font-size:25.53px;">Show database names</div>
<div class="t" style="left:2127.4px;top:986.1px;font-size:24.71px;">Paper Size</div>
<div class="a" style="left:2128.5px;top:1022.8px;width:421.0px;height:42.200000000000045px;border:2px solid #8a8a8a;border-radius:4px;background:#fff"></div>
<div class="t" style="left:2133.4px;top:1031.8px;font-size:25.02px;">A4 (Landscape)</div>
<svg class="a" style="left:2526px;top:1040.9px;" width="15" height="10" viewBox="0 0 15 10"><path d="M1 1 L7.5 9 L14 1" fill="none" stroke="#555" stroke-width="2"/></svg>
<div class="a" style="left:2093px;top:1116px;width:507px;height:6px;background:#e9e9e9;"></div>
<div class="a" style="left:2093px;top:1122px;width:507px;height:409.5px;background:#c6cdd4;"></div>
<div class="a" style="left:2108px;top:1150px;width:478px;height:352px;background:#fff;"></div>
<div class="a" style="left:2346px;top:1150px;width:2px;height:352px;background:#e2e2e2;"></div>
<div class="a" style="left:2108px;top:1326px;width:478px;height:2px;background:#e2e2e2;"></div>
<svg class="a" style="left:0;top:0" width="2600" height="1600"><rect x="2232" y="1156" width="37.6" height="17.4" fill="#60d9cf"/><rect x="2168" y="1168" width="37.7" height="15.7" fill="#60d9cf"/><rect x="2170" y="1190" width="31.8" height="41.6" fill="#60d9cf"/><rect x="2110" y="1202" width="41.8" height="17.7" fill="#60d9cf"/><rect x="2220" y="1184" width="49.6" height="17.5" fill="#60d9cf"/><rect x="2280" y="1182" width="37.8" height="17.5" fill="#60d9cf"/><rect x="2320" y="1196" width="39.8" height="17.4" fill="#60d9cf"/><rect x="2365.8" y="1194" width="27.8" height="23.4" fill="#fec82a"/><rect x="2401.8" y="1194" width="34.2" height="23.4" fill="#fec82a"/><rect x="2443.8" y="1198" width="29.8" height="13.8" fill="#fec82a"/><rect x="2272" y="1214" width="27.7" height="39.8" fill="#fec82a"/><rect x="2323.8" y="1216" width="23.8" height="11.6" fill="#fec82a"/><rect x="2409.4" y="1272" width="24.6" height="15.5" fill="#fec82a"/><rect x="2313" y="1231.5" width="88" height="65.5" fill="#eef8f5" stroke="#b2e1d8" stroke-width="1.6"/><rect x="2322" y="1234" width="30.0" height="15.8" fill="#64b0f4"/><rect x="2154" y="1266" width="45.8" height="29.8" fill="#64b0f4"/><rect x="2272" y="1264" width="33.6" height="35.7" fill="#64b0f4"/><rect x="2315.9" y="1270" width="38.0" height="23.8" fill="#64b0f4"/><rect x="2363.8" y="1272" width="32.1" height="15.8" fill="#64b0f4"/><rect x="2208" y="1304" width="27.8" height="17.6" fill="#64b0f4"/><rect x="2322" y="1308" width="30.0" height="29.8" fill="#64b0f4"/><rect x="2277" y="1191" width="132" height="112" fill="none" stroke="#000" stroke-width="2"/></svg>
<div class="a" style="left:2093px;top:1531.5px;width:507px;height:68.5px;background:#efefef;"></div>
<svg class="a" style="left:2113px;top:1551px;" width="30" height="30" viewBox="0 0 30 30"><circle cx="14.5" cy="14.5" r="13" fill="none" stroke="#c4c4c4" stroke-width="2"/><path d="M7 14.5 H22" stroke="#666" stroke-width="3.5"/></svg>
<svg class="a" style="left:2548px;top:1551px;" width="30" height="30" viewBox="0 0 30 30"><circle cx="14.5" cy="14.5" r="13" fill="none" stroke="#c4c4c4" stroke-width="2"/><path d="M7 14.5 H22 M14.5 7 V22" stroke="#666" stroke-width="3.5"/></svg>
<div class="a" style="left:2162px;top:1562px;width:363px;height:5px;border:1.5px solid #d4d4d4;background:#e7e9e9"></div>
<div class="a" style="left:2340px;top:1554px;width:12px;height:24px;background:#3d93f8;"></div>
</div>
<div class="a" style="left:0;top:0;width:2596px;height:1596px;border:2px solid #b4b4b4;border-radius:26px 26px 0 0;pointer-events:none"></div>
<svg class="a" style="left:0;top:0" width="2600" height="1600"><path d="M2 1584 V1598 H16Z" fill="#000"/></svg>
</body></html>
